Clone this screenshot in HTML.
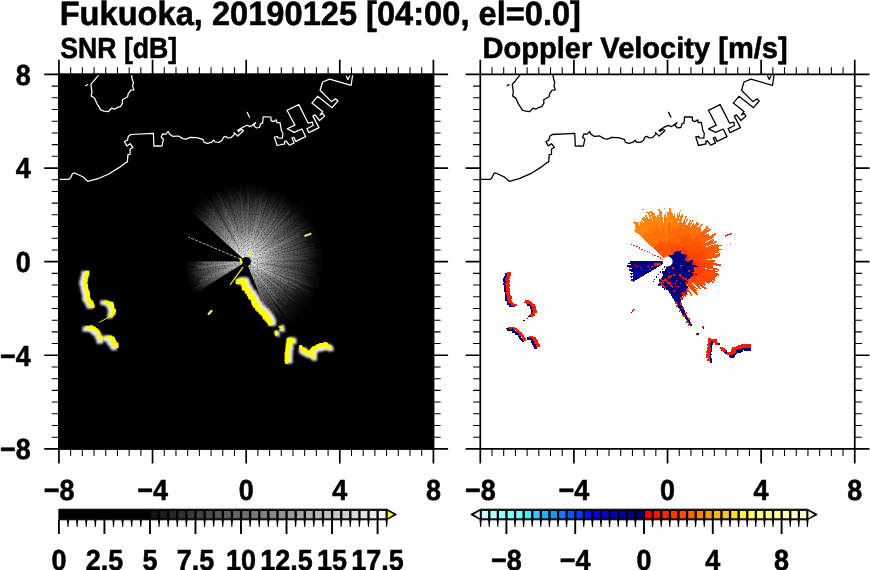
<!DOCTYPE html>
<html><head><meta charset="utf-8"><title>Fukuoka radar</title>
<style>html,body{margin:0;padding:0;background:#fff;}body{width:870px;height:570px;overflow:hidden;font-family:"Liberation Sans",sans-serif;}svg{display:block;filter:opacity(1);}text{text-rendering:geometricPrecision;}</style></head>
<body>
<svg width="870" height="570" viewBox="0 0 870 570">
<rect width="870" height="570" fill="#fff"/>
<defs>
<clipPath id="c1"><rect x="59.0" y="74.4" width="374.4" height="374.5"/></clipPath>
<clipPath id="c2"><rect x="480.3" y="74.4" width="374.4" height="374.5"/></clipPath>
<radialGradient id="g1" gradientUnits="userSpaceOnUse" cx="246.3" cy="261.5" r="78"><stop offset="0" stop-color="#fff" stop-opacity="1"/><stop offset="0.12" stop-color="#fff" stop-opacity="1"/><stop offset="0.26" stop-color="#fff" stop-opacity=".74"/><stop offset="0.38" stop-color="#fff" stop-opacity=".52"/><stop offset="0.51" stop-color="#fff" stop-opacity=".37"/><stop offset="0.64" stop-color="#fff" stop-opacity=".25"/><stop offset="0.77" stop-color="#fff" stop-opacity=".14"/><stop offset="0.9" stop-color="#fff" stop-opacity=".05"/><stop offset="1" stop-color="#fff" stop-opacity="0"/></radialGradient>
<radialGradient id="g1b" gradientUnits="userSpaceOnUse" cx="246.3" cy="261.5" r="62"><stop offset="0" stop-color="#fff" stop-opacity="1"/><stop offset="0.15" stop-color="#fff" stop-opacity=".95"/><stop offset="0.4" stop-color="#fff" stop-opacity=".6"/><stop offset="0.7" stop-color="#fff" stop-opacity=".3"/><stop offset="0.9" stop-color="#fff" stop-opacity=".1"/><stop offset="1" stop-color="#fff" stop-opacity="0"/></radialGradient>
<radialGradient id="g2" gradientUnits="userSpaceOnUse" cx="667.6" cy="261.5" r="60"><stop offset="0" stop-color="#ff3000"/><stop offset="0.45" stop-color="#ff5a00"/><stop offset="1" stop-color="#ff9a10"/></radialGradient>
<radialGradient id="g3" gradientUnits="userSpaceOnUse" cx="667.6" cy="261.5" r="60"><stop offset="0" stop-color="#ff1800"/><stop offset="0.5" stop-color="#ff3000"/><stop offset="1" stop-color="#ff6000"/></radialGradient>
<filter id="bl" x="-50%" y="-50%" width="200%" height="200%"><feGaussianBlur stdDeviation="0.9"/></filter>
<filter id="nz" x="0" y="0" width="100%" height="100%"><feTurbulence type="fractalNoise" baseFrequency="0.7" numOctaves="1" seed="5" result="n"/><feColorMatrix in="n" type="matrix" values="0 0 0 0 0  0 0 0 0 0  0 0 0 0 0  0 0 0 1.5 0.22" result="m"/><feComposite in="SourceGraphic" in2="m" operator="in"/></filter>
</defs>
<text x="59.7" y="24.7" font-size="33.8" textLength="521.3" lengthAdjust="spacingAndGlyphs" font-family="Liberation Sans, sans-serif" font-weight="bold" stroke="#000" stroke-width="0.55" stroke-linejoin="round">Fukuoka, 20190125 [04:00, el=0.0]</text>
<text x="60.2" y="58.0" font-size="29" textLength="117" lengthAdjust="spacingAndGlyphs" font-family="Liberation Sans, sans-serif" font-weight="bold" stroke="#000" stroke-width="0.55" stroke-linejoin="round">SNR [dB]</text>
<text x="482.6" y="58.3" font-size="29.5" textLength="305" lengthAdjust="spacingAndGlyphs" font-family="Liberation Sans, sans-serif" font-weight="bold" stroke="#000" stroke-width="0.55" stroke-linejoin="round">Doppler Velocity [m/s]</text>
<rect x="58.15" y="73.60" width="376.05" height="376.10" fill="#000"/>
<g clip-path="url(#c1)">
<g filter="url(#nz)">
<polygon points="246.3,261.5 187.6,208.6 191.4,204.7 195.5,201.0 199.9,197.6 204.4,194.5 209.2,191.7 214.2,189.3 219.3,187.3 224.5,185.6 229.9,184.2 235.3,183.3 240.8,182.7 246.3,182.5 251.8,182.7 257.3,183.3 262.7,184.2 268.1,185.6 273.3,187.3 278.4,189.3 283.4,191.7 288.2,194.5 292.7,197.6 297.1,201.0 301.2,204.7 305.0,208.6 308.6,212.9 311.8,217.3 314.7,222.0 317.3,226.9 319.5,231.9 321.4,237.1 323.0,242.4 324.1,247.8 324.9,253.2 325.3,258.7 325.3,264.3 324.9,269.8 324.1,275.2 323.0,280.6 321.4,285.9 319.5,291.1 317.3,296.1 314.7,301.0" fill="url(#g1)" fill-opacity="0.80"/>
<polygon points="246.3,261.5 314.7,301.0 311.6,305.9 308.2,310.6 304.4,315.0 300.3,319.2 295.9,323.0 291.2,326.5 286.3,329.6 281.2,332.4 275.9,334.7" fill="url(#g1)" fill-opacity="0.62"/>
<polygon points="246.3,261.5 193.7,294.4 191.6,290.6 189.7,286.7 188.0,282.7 186.7,278.6 185.7,274.4 184.9,270.1 184.5,265.8 184.3,261.5" fill="url(#g1b)" fill-opacity="0.60"/>
<polygon points="246.3,261.5 187.8,208.8 188.8,207.7" fill="url(#g1)" fill-opacity="0.37" />
<polygon points="246.3,261.5 204.1,222.1 204.6,221.6" fill="url(#g1)" fill-opacity="0.48" />
<polygon points="246.3,261.5 195.6,213.2 196.6,212.3" fill="url(#g1)" fill-opacity="0.78" />
<polygon points="246.3,261.5 205.8,221.5 206.4,220.9" fill="url(#g1)" fill-opacity="0.40" />
<polygon points="246.3,261.5 202.9,217.5 203.5,217.0" fill="url(#g1)" fill-opacity="0.49" />
<polygon points="246.3,261.5 193.6,206.9 194.3,206.3" fill="url(#g1)" fill-opacity="0.15" />
<polygon points="246.3,261.5 197.4,209.8 198.2,209.1" fill="url(#g1)" fill-opacity="0.52" />
<polygon points="246.3,261.5 199.0,210.1 199.7,209.5" fill="url(#g1)" fill-opacity="0.37" />
<polygon points="246.3,261.5 208.1,219.1 208.8,218.5" fill="url(#g1)" fill-opacity="0.74" />
<polygon points="246.3,261.5 202.8,211.8 203.7,211.0" fill="url(#g1)" fill-opacity="0.48" />
<polygon points="246.3,261.5 205.4,213.1 206.8,211.9" fill="url(#g1)" fill-opacity="0.70" />
<polygon points="246.3,261.5 209.8,215.8 210.5,215.2" fill="url(#g1)" fill-opacity="0.51" />
<polygon points="246.3,261.5 206.5,210.2 207.3,209.6" fill="url(#g1)" fill-opacity="0.49" />
<polygon points="246.3,261.5 204.4,206.0 205.1,205.5" fill="url(#g1)" fill-opacity="0.55" />
<polygon points="246.3,261.5 203.4,203.3 204.7,202.3" fill="url(#g1)" fill-opacity="0.39" />
<polygon points="246.3,261.5 207.6,206.6 208.6,205.9" fill="url(#g1)" fill-opacity="0.79" />
<polygon points="246.3,261.5 210.8,209.2 211.8,208.6" fill="url(#g1)" fill-opacity="0.69" />
<polygon points="246.3,261.5 214.6,213.0 215.3,212.5" fill="url(#g1)" fill-opacity="0.29" />
<polygon points="246.3,261.5 205.0,196.5 206.5,195.6" fill="url(#g1)" fill-opacity="0.63" />
<polygon points="246.3,261.5 209.7,201.1 210.9,200.4" fill="url(#g1)" fill-opacity="0.11" />
<polygon points="246.3,261.5 213.1,204.4 214.8,203.5" fill="url(#g1)" fill-opacity="0.66" />
<polygon points="246.3,261.5 208.8,192.7 209.9,192.1" fill="url(#g1)" fill-opacity="0.39" />
<polygon points="246.3,261.5 211.6,195.7 212.4,195.3" fill="url(#g1)" fill-opacity="0.51" />
<polygon points="246.3,261.5 217.0,204.4 218.1,203.9" fill="url(#g1)" fill-opacity="0.33" />
<polygon points="246.3,261.5 215.4,198.8 216.9,198.1" fill="url(#g1)" fill-opacity="0.41" />
<polygon points="246.3,261.5 213.1,190.2 213.9,189.8" fill="url(#g1)" fill-opacity="0.43" />
<polygon points="246.3,261.5 222.6,209.2 223.2,208.9" fill="url(#g1)" fill-opacity="0.61" />
<polygon points="246.3,261.5 214.1,188.5 216.3,187.5" fill="url(#g1)" fill-opacity="0.71" />
<polygon points="246.3,261.5 218.6,193.7 219.9,193.2" fill="url(#g1)" fill-opacity="0.76" />
<polygon points="246.3,261.5 225.9,208.8 226.9,208.4" fill="url(#g1)" fill-opacity="0.42" />
<polygon points="246.3,261.5 221.9,195.2 222.9,194.8" fill="url(#g1)" fill-opacity="0.44" />
<polygon points="246.3,261.5 221.6,191.3 222.7,190.9" fill="url(#g1)" fill-opacity="0.15" />
<polygon points="246.3,261.5 225.4,199.4 226.4,199.1" fill="url(#g1)" fill-opacity="0.78" />
<polygon points="246.3,261.5 228.6,206.3 229.8,206.0" fill="url(#g1)" fill-opacity="0.41" />
<polygon points="246.3,261.5 228.4,201.4 230.2,200.9" fill="url(#g1)" fill-opacity="0.16" />
<polygon points="246.3,261.5 226.4,187.4 228.1,186.9" fill="url(#g1)" fill-opacity="0.27" />
<polygon points="246.3,261.5 227.3,184.1 229.1,183.7" fill="url(#g1)" fill-opacity="0.60" />
<polygon points="246.3,261.5 229.1,184.4 230.8,184.0" fill="url(#g1)" fill-opacity="0.17" />
<polygon points="246.3,261.5 234.5,203.0 235.4,202.9" fill="url(#g1)" fill-opacity="0.58" />
<polygon points="246.3,261.5 233.9,195.0 234.7,194.9" fill="url(#g1)" fill-opacity="0.52" />
<polygon points="246.3,261.5 235.4,199.7 236.6,199.5" fill="url(#g1)" fill-opacity="0.17" />
<polygon points="246.3,261.5 236.2,197.4 238.1,197.2" fill="url(#g1)" fill-opacity="0.50" />
<polygon points="246.3,261.5 237.0,189.5 238.1,189.4" fill="url(#g1)" fill-opacity="0.46" />
<polygon points="246.3,261.5 238.1,190.3 240.2,190.0" fill="url(#g1)" fill-opacity="0.64" />
<polygon points="246.3,261.5 239.5,184.2 241.3,184.1" fill="url(#g1)" fill-opacity="0.67" />
<polygon points="246.3,261.5 242.0,196.2 243.9,196.1" fill="url(#g1)" fill-opacity="0.37" />
<polygon points="246.3,261.5 243.7,194.0 244.5,194.0" fill="url(#g1)" fill-opacity="0.37" />
<polygon points="246.3,261.5 244.7,203.9 245.6,203.9" fill="url(#g1)" fill-opacity="0.22" />
<polygon points="246.3,261.5 245.5,202.9 246.4,202.9" fill="url(#g1)" fill-opacity="0.53" />
<polygon points="246.3,261.5 246.3,205.5 247.0,205.5" fill="url(#g1)" fill-opacity="0.17" />
<polygon points="246.3,261.5 247.1,182.7 248.1,182.7" fill="url(#g1)" fill-opacity="0.54" />
<polygon points="246.3,261.5 247.9,184.5 248.9,184.6" fill="url(#g1)" fill-opacity="0.54" />
<polygon points="246.3,261.5 248.5,190.3 249.7,190.4" fill="url(#g1)" fill-opacity="0.81" />
<polygon points="246.3,261.5 249.2,196.8 251.2,196.9" fill="url(#g1)" fill-opacity="0.15" />
<polygon points="246.3,261.5 252.1,181.9 254.0,182.0" fill="url(#g1)" fill-opacity="0.42" />
<polygon points="246.3,261.5 252.3,198.3 253.7,198.4" fill="url(#g1)" fill-opacity="0.17" />
<polygon points="246.3,261.5 254.8,188.2 256.2,188.4" fill="url(#g1)" fill-opacity="0.43" />
<polygon points="246.3,261.5 255.3,193.7 256.4,193.9" fill="url(#g1)" fill-opacity="0.21" />
<polygon points="246.3,261.5 255.7,197.5 257.6,197.8" fill="url(#g1)" fill-opacity="0.60" />
<polygon points="246.3,261.5 259.2,188.4 260.1,188.6" fill="url(#g1)" fill-opacity="0.29" />
<polygon points="246.3,261.5 259.7,190.0 260.5,190.2" fill="url(#g1)" fill-opacity="0.26" />
<polygon points="246.3,261.5 261.4,185.2 262.9,185.5" fill="url(#g1)" fill-opacity="0.33" />
<polygon points="246.3,261.5 260.8,194.3 261.9,194.5" fill="url(#g1)" fill-opacity="0.67" />
<polygon points="246.3,261.5 262.3,192.1 263.7,192.4" fill="url(#g1)" fill-opacity="0.54" />
<polygon points="246.3,261.5 264.5,188.4 265.7,188.7" fill="url(#g1)" fill-opacity="0.70" />
<polygon points="246.3,261.5 261.8,202.7 262.8,203.0" fill="url(#g1)" fill-opacity="0.44" />
<polygon points="246.3,261.5 267.7,184.7 268.7,185.0" fill="url(#g1)" fill-opacity="0.68" />
<polygon points="246.3,261.5 263.7,201.8 265.0,202.2" fill="url(#g1)" fill-opacity="0.60" />
<polygon points="246.3,261.5 266.3,197.8 267.5,198.2" fill="url(#g1)" fill-opacity="0.80" />
<polygon points="246.3,261.5 271.2,186.6 272.6,187.1" fill="url(#g1)" fill-opacity="0.34" />
<polygon points="246.3,261.5 265.7,206.4 266.6,206.7" fill="url(#g1)" fill-opacity="0.43" />
<polygon points="246.3,261.5 267.3,204.3 268.4,204.8" fill="url(#g1)" fill-opacity="0.55" />
<polygon points="246.3,261.5 273.8,190.5 275.9,191.3" fill="url(#g1)" fill-opacity="0.43" />
<polygon points="246.3,261.5 275.4,192.2 276.8,192.8" fill="url(#g1)" fill-opacity="0.12" />
<polygon points="246.3,261.5 277.7,190.3 278.6,190.7" fill="url(#g1)" fill-opacity="0.68" />
<polygon points="246.3,261.5 274.2,200.1 275.1,200.5" fill="url(#g1)" fill-opacity="0.19" />
<polygon points="246.3,261.5 271.0,208.9 272.0,209.4" fill="url(#g1)" fill-opacity="0.81" />
<polygon points="246.3,261.5 275.9,201.3 277.3,202.0" fill="url(#g1)" fill-opacity="0.64" />
<polygon points="246.3,261.5 280.1,196.3 280.9,196.8" fill="url(#g1)" fill-opacity="0.19" />
<polygon points="246.3,261.5 272.9,211.5 273.7,211.9" fill="url(#g1)" fill-opacity="0.52" />
<polygon points="246.3,261.5 282.6,195.5 284.1,196.3" fill="url(#g1)" fill-opacity="0.17" />
<polygon points="246.3,261.5 286.1,192.6 288.1,193.8" fill="url(#g1)" fill-opacity="0.58" />
<polygon points="246.3,261.5 277.6,210.6 278.6,211.2" fill="url(#g1)" fill-opacity="0.49" />
<polygon points="246.3,261.5 276.7,214.0 277.2,214.4" fill="url(#g1)" fill-opacity="0.83" />
<polygon points="246.3,261.5 283.9,204.1 284.6,204.5" fill="url(#g1)" fill-opacity="0.80" />
<polygon points="246.3,261.5 290.6,195.3 292.1,196.3" fill="url(#g1)" fill-opacity="0.21" />
<polygon points="246.3,261.5 278.8,215.1 279.5,215.6" fill="url(#g1)" fill-opacity="0.22" />
<polygon points="246.3,261.5 282.4,211.4 283.9,212.5" fill="url(#g1)" fill-opacity="0.52" />
<polygon points="246.3,261.5 288.2,206.6 289.3,207.4" fill="url(#g1)" fill-opacity="0.72" />
<polygon points="246.3,261.5 294.7,200.5 295.4,201.1" fill="url(#g1)" fill-opacity="0.33" />
<polygon points="246.3,261.5 291.5,205.6 292.8,206.7" fill="url(#g1)" fill-opacity="0.70" />
<polygon points="246.3,261.5 289.0,211.0 290.4,212.3" fill="url(#g1)" fill-opacity="0.78" />
<polygon points="246.3,261.5 285.7,217.4 287.0,218.6" fill="url(#g1)" fill-opacity="0.17" />
<polygon points="246.3,261.5 285.1,220.5 286.3,221.7" fill="url(#g1)" fill-opacity="0.40" />
<polygon points="246.3,261.5 296.2,211.6 297.0,212.4" fill="url(#g1)" fill-opacity="0.67" />
<polygon points="246.3,261.5 289.4,219.6 290.1,220.3" fill="url(#g1)" fill-opacity="0.43" />
<polygon points="246.3,261.5 296.7,213.8 297.3,214.5" fill="url(#g1)" fill-opacity="0.31" />
<polygon points="246.3,261.5 296.7,214.8 298.1,216.3" fill="url(#g1)" fill-opacity="0.44" />
<polygon points="246.3,261.5 304.4,210.7 305.0,211.4" fill="url(#g1)" fill-opacity="0.10" />
<polygon points="246.3,261.5 293.9,220.7 294.5,221.5" fill="url(#g1)" fill-opacity="0.67" />
<polygon points="246.3,261.5 297.7,218.7 298.9,220.2" fill="url(#g1)" fill-opacity="0.07" />
<polygon points="246.3,261.5 298.7,220.3 299.2,220.9" fill="url(#g1)" fill-opacity="0.54" />
<polygon points="246.3,261.5 302.2,218.5 303.4,220.1" fill="url(#g1)" fill-opacity="0.21" />
<polygon points="246.3,261.5 300.4,222.2 301.1,223.2" fill="url(#g1)" fill-opacity="0.48" />
<polygon points="246.3,261.5 302.2,222.4 303.0,223.7" fill="url(#g1)" fill-opacity="0.25" />
<polygon points="246.3,261.5 310.3,218.6 311.6,220.6" fill="url(#g1)" fill-opacity="0.80" />
<polygon points="246.3,261.5 312.4,219.9 313.2,221.1" fill="url(#g1)" fill-opacity="0.76" />
<polygon points="246.3,261.5 311.4,222.0 312.1,223.1" fill="url(#g1)" fill-opacity="0.16" />
<polygon points="246.3,261.5 302.7,228.4 303.1,229.1" fill="url(#g1)" fill-opacity="0.30" />
<polygon points="246.3,261.5 303.8,228.6 304.3,229.5" fill="url(#g1)" fill-opacity="0.22" />
<polygon points="246.3,261.5 311.7,225.2 312.4,226.5" fill="url(#g1)" fill-opacity="0.77" />
<polygon points="246.3,261.5 315.7,224.6 316.2,225.7" fill="url(#g1)" fill-opacity="0.56" />
<polygon points="246.3,261.5 299.2,234.3 299.7,235.4" fill="url(#g1)" fill-opacity="0.76" />
<polygon points="246.3,261.5 301.3,234.4 301.9,235.7" fill="url(#g1)" fill-opacity="0.81" />
<polygon points="246.3,261.5 316.3,228.9 317.0,230.5" fill="url(#g1)" fill-opacity="0.18" />
<polygon points="246.3,261.5 301.1,237.3 301.5,238.2" fill="url(#g1)" fill-opacity="0.40" />
<polygon points="246.3,261.5 306.8,235.8 307.5,237.6" fill="url(#g1)" fill-opacity="0.39" />
<polygon points="246.3,261.5 305.6,238.3 306.0,239.4" fill="url(#g1)" fill-opacity="0.63" />
<polygon points="246.3,261.5 306.4,239.2 306.7,239.9" fill="url(#g1)" fill-opacity="0.42" />
<polygon points="246.3,261.5 307.7,239.4 307.9,240.2" fill="url(#g1)" fill-opacity="0.46" />
<polygon points="246.3,261.5 310.8,239.0 311.2,240.3" fill="url(#g1)" fill-opacity="0.10" />
<polygon points="246.3,261.5 321.7,236.7 322.0,237.9" fill="url(#g1)" fill-opacity="0.13" />
<polygon points="246.3,261.5 306.0,242.8 306.3,244.0" fill="url(#g1)" fill-opacity="0.77" />
<polygon points="246.3,261.5 306.2,243.9 306.5,244.8" fill="url(#g1)" fill-opacity="0.15" />
<polygon points="246.3,261.5 319.9,241.0 320.3,242.6" fill="url(#g1)" fill-opacity="0.59" />
<polygon points="246.3,261.5 310.0,245.2 310.3,246.4" fill="url(#g1)" fill-opacity="0.48" />
<polygon points="246.3,261.5 314.1,245.3 314.5,247.4" fill="url(#g1)" fill-opacity="0.61" />
<polygon points="246.3,261.5 307.7,248.7 307.8,249.4" fill="url(#g1)" fill-opacity="0.69" />
<polygon points="246.3,261.5 311.2,248.6 311.4,249.7" fill="url(#g1)" fill-opacity="0.11" />
<polygon points="246.3,261.5 316.4,248.6 316.5,249.5" fill="url(#g1)" fill-opacity="0.69" />
<polygon points="246.3,261.5 315.9,249.5 316.0,250.3" fill="url(#g1)" fill-opacity="0.23" />
<polygon points="246.3,261.5 322.0,249.2 322.2,250.7" fill="url(#g1)" fill-opacity="0.41" />
<polygon points="246.3,261.5 325.3,250.1 325.6,251.6" fill="url(#g1)" fill-opacity="0.38" />
<polygon points="246.3,261.5 316.7,252.6 316.8,254.0" fill="url(#g1)" fill-opacity="0.08" />
<polygon points="246.3,261.5 324.4,253.0 324.5,254.2" fill="url(#g1)" fill-opacity="0.83" />
<polygon points="246.3,261.5 303.3,256.1 303.3,257.2" fill="url(#g1)" fill-opacity="0.21" />
<polygon points="246.3,261.5 317.2,256.0 317.3,257.4" fill="url(#g1)" fill-opacity="0.47" />
<polygon points="246.3,261.5 309.1,257.8 309.2,258.8" fill="url(#g1)" fill-opacity="0.45" />
<polygon points="246.3,261.5 308.7,258.7 308.8,259.6" fill="url(#g1)" fill-opacity="0.69" />
<polygon points="246.3,261.5 303.2,259.7 303.2,260.8" fill="url(#g1)" fill-opacity="0.06" />
<polygon points="246.3,261.5 315.5,260.5 315.5,262.6" fill="url(#g1)" fill-opacity="0.20" />
<polygon points="246.3,261.5 308.2,262.4 308.2,263.8" fill="url(#g1)" fill-opacity="0.41" />
<polygon points="246.3,261.5 318.0,264.0 317.9,265.6" fill="url(#g1)" fill-opacity="0.49" />
<polygon points="246.3,261.5 325.5,265.9 325.3,267.7" fill="url(#g1)" fill-opacity="0.30" />
<polygon points="246.3,261.5 325.6,267.6 325.5,268.9" fill="url(#g1)" fill-opacity="0.32" />
<polygon points="246.3,261.5 311.7,267.5 311.6,268.5" fill="url(#g1)" fill-opacity="0.33" />
<polygon points="246.3,261.5 322.0,269.5 321.9,270.4" fill="url(#g1)" fill-opacity="0.06" />
<polygon points="246.3,261.5 312.2,269.1 312.0,270.4" fill="url(#g1)" fill-opacity="0.09" />
<polygon points="246.3,261.5 322.5,271.7 322.3,273.4" fill="url(#g1)" fill-opacity="0.59" />
<polygon points="246.3,261.5 315.8,272.3 315.6,273.6" fill="url(#g1)" fill-opacity="0.60" />
<polygon points="246.3,261.5 312.3,272.9 312.2,273.7" fill="url(#g1)" fill-opacity="0.18" />
<polygon points="246.3,261.5 301.5,271.6 301.2,272.9" fill="url(#g1)" fill-opacity="0.34" />
<polygon points="246.3,261.5 324.0,277.5 323.7,278.9" fill="url(#g1)" fill-opacity="0.49" />
<polygon points="246.3,261.5 301.8,273.9 301.6,274.8" fill="url(#g1)" fill-opacity="0.76" />
<polygon points="246.3,261.5 309.1,276.5 308.9,277.4" fill="url(#g1)" fill-opacity="0.05" />
<polygon points="246.3,261.5 302.5,275.7 302.2,277.0" fill="url(#g1)" fill-opacity="0.27" />
<polygon points="246.3,261.5 306.0,278.0 305.8,278.9" fill="url(#g1)" fill-opacity="0.67" />
<polygon points="246.3,261.5 306.2,278.9 305.9,279.6" fill="url(#g1)" fill-opacity="0.12" />
<polygon points="246.3,261.5 313.4,281.8 312.9,283.3" fill="url(#g1)" fill-opacity="0.37" />
<polygon points="246.3,261.5 306.5,281.1 306.1,282.2" fill="url(#g1)" fill-opacity="0.24" />
<polygon points="246.3,261.5 321.0,287.2 320.2,289.4" fill="url(#g1)" fill-opacity="0.73" />
<polygon points="246.3,261.5 313.5,286.8 313.1,287.8" fill="url(#g1)" fill-opacity="0.62" />
<polygon points="246.3,261.5 307.1,285.3 306.4,287.1" fill="url(#g1)" fill-opacity="0.31" />
<polygon points="246.3,261.5 301.2,284.8 300.6,286.0" fill="url(#g1)" fill-opacity="0.63" />
<polygon points="246.3,261.5 298.3,284.9 298.0,285.7" fill="url(#g1)" fill-opacity="0.72" />
<polygon points="246.3,261.5 310.7,291.5 309.8,293.4" fill="url(#g1)" fill-opacity="0.64" />
<polygon points="246.3,261.5 288.4,282.6 287.7,283.8" fill="url(#g1)" fill-opacity="0.47" />
<polygon points="246.3,261.5 296.1,288.2 295.3,289.7" fill="url(#g1)" fill-opacity="0.70" />
<polygon points="246.3,261.5 300.3,292.4 299.9,293.1" fill="url(#g1)" fill-opacity="0.52" />
<polygon points="246.3,261.5 285.9,284.7 285.5,285.3" fill="url(#g1)" fill-opacity="0.08" />
<polygon points="246.3,261.5 302.0,295.2 301.3,296.3" fill="url(#g1)" fill-opacity="0.35" />
<polygon points="246.3,261.5 293.9,291.5 293.2,292.6" fill="url(#g1)" fill-opacity="0.55" />
<polygon points="246.3,261.5 295.5,294.0 294.6,295.4" fill="url(#g1)" fill-opacity="0.44" />
<polygon points="246.3,261.5 290.6,292.5 290.2,293.0" fill="url(#g1)" fill-opacity="0.11" />
<polygon points="246.3,261.5 298.1,298.6 297.0,300.1" fill="url(#g1)" fill-opacity="0.12" />
<polygon points="246.3,261.5 282.5,289.0 281.7,290.0" fill="url(#g1)" fill-opacity="0.64" />
<polygon points="246.3,261.5 294.5,300.2 293.7,301.1" fill="url(#g1)" fill-opacity="0.73" />
<polygon points="246.3,261.5 292.4,299.9 291.8,300.7" fill="url(#g1)" fill-opacity="0.21" />
<polygon points="246.3,261.5 288.0,297.2 287.1,298.1" fill="url(#g1)" fill-opacity="0.36" />
<polygon points="246.3,261.5 294.0,304.2 293.1,305.3" fill="url(#g1)" fill-opacity="0.28" />
<polygon points="246.3,261.5 288.4,300.8 287.9,301.3" fill="url(#g1)" fill-opacity="0.56" />
<polygon points="246.3,261.5 287.7,300.9 287.2,301.4" fill="url(#g1)" fill-opacity="0.32" />
<polygon points="246.3,261.5 287.6,301.7 286.9,302.5" fill="url(#g1)" fill-opacity="0.16" />
<polygon points="246.3,261.5 278.2,293.7 277.5,294.4" fill="url(#g1)" fill-opacity="0.27" />
<polygon points="246.3,261.5 287.1,304.4 286.6,304.9" fill="url(#g1)" fill-opacity="0.59" />
<polygon points="246.3,261.5 286.9,305.1 286.1,305.9" fill="url(#g1)" fill-opacity="0.28" />
<polygon points="246.3,261.5 282.6,301.8 281.7,302.6" fill="url(#g1)" fill-opacity="0.14" />
<polygon points="246.3,261.5 277.9,298.1 276.8,299.0" fill="url(#g1)" fill-opacity="0.83" />
<polygon points="246.3,261.5 274.4,295.9 273.6,296.5" fill="url(#g1)" fill-opacity="0.42" />
<polygon points="246.3,261.5 286.5,313.0 285.0,314.1" fill="url(#g1)" fill-opacity="0.41" />
<polygon points="246.3,261.5 277.5,303.8 276.6,304.4" fill="url(#g1)" fill-opacity="0.78" />
<polygon points="246.3,261.5 272.7,298.7 272.2,299.1" fill="url(#g1)" fill-opacity="0.12" />
<polygon points="246.3,261.5 274.6,302.5 273.3,303.3" fill="url(#g1)" fill-opacity="0.34" />
<polygon points="246.3,261.5 280.1,313.5 278.5,314.5" fill="url(#g1)" fill-opacity="0.46" />
<polygon points="246.3,261.5 277.3,312.3 276.7,312.6" fill="url(#g1)" fill-opacity="0.24" />
<polygon points="246.3,261.5 273.3,306.7 272.2,307.3" fill="url(#g1)" fill-opacity="0.18" />
<polygon points="246.3,261.5 275.4,312.8 274.3,313.4" fill="url(#g1)" fill-opacity="0.37" />
<polygon points="246.3,261.5 271.6,308.3 270.8,308.6" fill="url(#g1)" fill-opacity="0.35" />
<polygon points="246.3,261.5 275.2,316.9 274.6,317.2" fill="url(#g1)" fill-opacity="0.05" />
<polygon points="246.3,261.5 274.7,317.2 273.6,317.7" fill="url(#g1)" fill-opacity="0.15" />
<polygon points="246.3,261.5 272.5,315.1 271.6,315.6" fill="url(#g1)" fill-opacity="0.77" />
<polygon points="246.3,261.5 267.4,306.4 266.5,306.7" fill="url(#g1)" fill-opacity="0.10" />
<polygon points="246.3,261.5 273.3,321.7 272.0,322.3" fill="url(#g1)" fill-opacity="0.52" />
<polygon points="246.3,261.5 271.4,320.7 270.4,321.2" fill="url(#g1)" fill-opacity="0.65" />
<polygon points="246.3,261.5 265.1,308.0 265.1,308.0" fill="url(#g1)" fill-opacity="0.09" />
<polygon points="246.3,261.5 199.9,290.5 199.1,289.2" fill="url(#g1b)" fill-opacity="0.20" />
<polygon points="246.3,261.5 202.6,287.2 201.9,286.0" fill="url(#g1b)" fill-opacity="0.32" />
<polygon points="246.3,261.5 195.8,289.5 195.1,288.1" fill="url(#g1b)" fill-opacity="0.40" />
<polygon points="246.3,261.5 194.6,288.4 194.2,287.6" fill="url(#g1b)" fill-opacity="0.54" />
<polygon points="246.3,261.5 195.9,286.8 195.4,285.9" fill="url(#g1b)" fill-opacity="0.13" />
<polygon points="246.3,261.5 200.3,283.6 199.5,281.9" fill="url(#g1b)" fill-opacity="0.63" />
<polygon points="246.3,261.5 198.9,282.3 198.4,281.0" fill="url(#g1b)" fill-opacity="0.74" />
<polygon points="246.3,261.5 204.3,278.7 203.9,277.8" fill="url(#g1b)" fill-opacity="0.39" />
<polygon points="246.3,261.5 201.6,278.8 201.1,277.6" fill="url(#g1b)" fill-opacity="0.62" />
<polygon points="246.3,261.5 199.1,278.4 198.7,277.1" fill="url(#g1b)" fill-opacity="0.27" />
<polygon points="246.3,261.5 195.8,278.1 195.2,276.2" fill="url(#g1b)" fill-opacity="0.38" />
<polygon points="246.3,261.5 193.6,276.8 193.3,275.8" fill="url(#g1b)" fill-opacity="0.15" />
<polygon points="246.3,261.5 195.1,275.4 194.7,273.5" fill="url(#g1b)" fill-opacity="0.42" />
<polygon points="246.3,261.5 186.0,275.6 185.6,274.0" fill="url(#g1b)" fill-opacity="0.41" />
<polygon points="246.3,261.5 194.4,272.2 194.2,271.2" fill="url(#g1b)" fill-opacity="0.27" />
<polygon points="246.3,261.5 198.3,270.6 198.1,269.6" fill="url(#g1b)" fill-opacity="0.16" />
<polygon points="246.3,261.5 197.6,269.8 197.5,268.9" fill="url(#g1b)" fill-opacity="0.67" />
<polygon points="246.3,261.5 187.2,270.5 187.1,269.4" fill="url(#g1b)" fill-opacity="0.62" />
<polygon points="246.3,261.5 197.1,268.2 196.9,266.3" fill="url(#g1b)" fill-opacity="0.62" />
<polygon points="246.3,261.5 197.0,266.4 196.9,265.5" fill="url(#g1b)" fill-opacity="0.34" />
<polygon points="246.3,261.5 194.5,265.8 194.5,264.9" fill="url(#g1b)" fill-opacity="0.50" />
<polygon points="246.3,261.5 201.9,264.5 201.8,263.3" fill="url(#g1b)" fill-opacity="0.45" />
<polygon points="246.3,261.5 202.5,263.3 202.5,262.5" fill="url(#g1b)" fill-opacity="0.73" />
<polygon points="246.3,261.5 196.3,262.7 196.3,261.1" fill="url(#g1b)" fill-opacity="0.41" />
<polygon points="246.3,261.5 201.3,183.6 203.2,182.5" fill="#000" fill-opacity="0.46" />
<polygon points="246.3,261.5 235.3,172.2 237.4,171.9" fill="#000" fill-opacity="0.26" />
<polygon points="246.3,261.5 275.6,176.4 276.5,176.7" fill="#000" fill-opacity="0.43" />
<polygon points="246.3,261.5 301.7,190.6 303.3,191.9" fill="#000" fill-opacity="0.37" />
<polygon points="246.3,261.5 321.8,212.5 322.7,213.9" fill="#000" fill-opacity="0.25" />
<polygon points="246.3,261.5 333.6,239.7 334.0,241.1" fill="#000" fill-opacity="0.48" />
<polygon points="246.3,261.5 335.4,274.0 335.1,276.0" fill="#000" fill-opacity="0.46" />
<polygon points="246.3,261.5 329.7,295.2 328.9,297.2" fill="#000" fill-opacity="0.31" />
<polygon points="246.3,261.5 314.2,320.5 313.5,321.4" fill="#000" fill-opacity="0.29" />
<polygon points="246.3,261.5 297.9,335.2 296.6,336.1" fill="#000" fill-opacity="0.42" />
</g>
<polyline fill="none" stroke="#fff" stroke-width="0.90" stroke-linejoin="round" stroke-linecap="butt" points="240.3,259.0 188.3,237.0" stroke-dasharray="3 1.2" stroke-opacity="0.75"/>
<circle cx="246.3" cy="261.5" r="4.6" fill="#000"/>
</g>
<g clip-path="url(#c1)">
<path d="M236.8 278.3h7.9v6.1h-7.9zM237.7 278.1h6.9v5.8h-6.9zM239.7 277.0h6.5v6.4h-6.5zM240.8 277.7h6.3v5.2h-6.3zM241.8 277.4h6.2v4.9h-6.2zM241.9 277.7h6.8v5.2h-6.8zM242.7 279.2h6.6v5.6h-6.6zM241.7 279.9h7.8v5.6h-7.8zM242.1 280.5h7.9v6.0h-7.9zM243.0 281.8h7.0v6.0h-7.0zM242.9 282.4h7.3v6.4h-7.3zM244.0 284.1h6.7v5.5h-6.7zM244.0 284.6h7.6v6.1h-7.6zM244.8 285.9h7.9v5.3h-7.9zM245.6 287.0h6.4v6.1h-6.4zM245.9 287.8h7.0v5.1h-7.0zM246.3 287.9h7.3v6.5h-7.3zM247.3 288.4h6.4v6.5h-6.4zM248.9 290.6h6.1v5.5h-6.1zM248.8 290.3h7.5v6.6h-7.5zM249.8 290.9h6.4v6.4h-6.4zM249.6 292.5h7.3v5.4h-7.3zM250.6 293.7h6.3v4.8h-6.3zM251.0 294.4h7.9v5.0h-7.9zM251.9 294.9h6.7v6.2h-6.7zM252.2 296.6h6.1v5.6h-6.1zM253.0 296.7h6.4v5.4h-6.4zM253.1 297.2h6.8v6.2h-6.8zM254.1 299.0h6.1v4.9h-6.1zM253.3 299.2h7.5v6.4h-7.5zM253.5 300.8h7.9v5.9h-7.9zM254.3 302.1h6.6v5.3h-6.6zM255.1 301.9h7.8v5.9h-7.8zM256.6 303.8h6.5v5.6h-6.5zM256.6 304.3h6.8v5.2h-6.8zM257.2 305.3h7.9v5.1h-7.9zM257.9 305.2h7.6v6.2h-7.6zM259.3 306.0h6.6v5.4h-6.6zM259.6 306.4h6.4v6.1h-6.4zM260.8 308.4h6.1v5.8h-6.1zM260.7 308.0h7.8v6.5h-7.8zM262.8 309.6h6.2v5.7h-6.2zM263.5 310.8h6.5v5.5h-6.5zM263.6 310.7h7.5v6.3h-7.5zM263.9 312.3h7.7v5.3h-7.7zM264.3 313.1h7.5v5.1h-7.5zM265.8 313.4h6.3v6.4h-6.3zM266.0 314.1h6.8v6.5h-6.8zM266.6 315.1h7.6v5.9h-7.6zM267.4 316.7h6.9v6.2h-6.9zM267.7 317.3h6.1v5.3h-6.1zM268.1 318.5h7.9v5.8h-7.9zM268.2 320.2h7.7v5.6h-7.7z" fill="#e8e8e8" filter="url(#bl)"/>
<path d="M274.6 330.8h5.1v2.7h-5.1zM275.1 331.3h3.6v3.2h-3.6zM275.9 332.2h3.7v3.6h-3.7zM276.4 333.6h3.2v3.1h-3.2z" fill="#e8e8e8" filter="url(#bl)"/>
<path d="M280.4 325.1h3.8v2.9h-3.8zM280.6 326.4h3.3v2.7h-3.3zM280.1 327.7h4.5v2.7h-4.5zM280.8 328.9h4.0v3.0h-4.0z" fill="#e8e8e8" filter="url(#bl)"/>
<path d="M290.9 338.9h5.6v5.0h-5.6zM289.4 337.7h6.7v5.8h-6.7zM288.2 338.5h6.5v4.3h-6.5zM287.9 337.3h5.8v5.4h-5.8zM287.3 338.7h5.9v4.3h-5.9zM287.0 339.2h6.3v5.6h-6.3zM287.2 340.3h5.7v4.9h-5.7zM286.8 341.3h6.0v5.6h-6.0zM286.4 342.0h6.6v5.7h-6.6zM286.4 343.0h6.9v5.7h-6.9zM286.7 345.2h6.9v4.7h-6.9zM286.5 346.1h6.6v4.2h-6.6zM286.9 346.4h5.8v5.5h-5.8zM286.8 348.0h5.4v4.7h-5.4zM287.0 349.7h5.2v4.4h-5.2zM287.1 349.5h5.1v5.0h-5.1zM286.1 351.4h6.7v4.2h-6.7zM286.2 352.3h6.3v4.5h-6.3zM286.4 352.8h5.9v5.1h-5.9zM286.8 353.7h5.0v5.1h-5.0zM286.0 354.5h6.5v5.4h-6.5zM285.9 356.3h5.9v4.2h-5.9zM286.7 356.6h5.2v4.8h-5.2zM286.3 358.7h6.3v4.1h-6.3zM286.2 359.3h6.0v4.1h-6.0z" fill="#e8e8e8" filter="url(#bl)"/>
<path d="M298.8 347.8h6.9v4.2h-6.9zM299.2 348.0h6.5v5.4h-6.5zM300.9 347.8h6.0v5.7h-6.0zM300.5 348.8h6.6v5.6h-6.6zM302.2 350.3h6.5v4.2h-6.5zM302.5 351.7h6.6v4.2h-6.6zM304.1 351.3h5.4v4.4h-5.4zM305.0 352.4h5.1v4.3h-5.1zM305.4 351.9h6.4v5.6h-6.4zM307.4 352.1h5.2v4.9h-5.2zM307.6 353.0h6.7v5.0h-6.7zM309.5 352.4h5.2v5.7h-5.2zM309.6 352.3h6.6v4.4h-6.6zM310.0 350.6h5.7v5.3h-5.7zM310.5 350.4h6.5v4.0h-6.5zM310.9 349.0h6.3v5.7h-6.3zM311.1 348.5h5.6v4.0h-5.6zM311.8 347.9h6.2v4.7h-6.2zM313.4 347.0h5.3v4.4h-5.3zM314.0 347.0h5.0v4.6h-5.0zM315.2 346.4h5.4v5.0h-5.4zM315.3 347.0h6.2v4.8h-6.2zM316.6 346.7h5.5v4.2h-5.5zM317.3 345.5h6.7v5.4h-6.7zM319.3 345.5h5.0v5.1h-5.0zM319.9 345.6h6.3v4.8h-6.3zM320.4 344.6h5.5v5.6h-5.5zM321.1 345.0h5.8v4.4h-5.8zM323.3 343.7h5.0v5.0h-5.0zM323.6 343.7h5.4v5.1h-5.4zM323.7 344.4h6.6v4.3h-6.6zM325.9 344.7h5.1v5.6h-5.1zM326.8 345.1h5.0v5.5h-5.0zM326.5 345.7h6.5v4.8h-6.5zM328.0 347.3h5.5v4.0h-5.5z" fill="#e8e8e8" filter="url(#bl)"/>
<path d="M310.4 351.4h5.4v4.7h-5.4zM310.9 353.1h5.1v3.9h-5.1zM311.7 353.8h4.5v4.3h-4.5zM310.6 355.5h5.8v3.2h-5.8zM311.5 355.8h5.5v4.9h-5.5z" fill="#e8e8e8" filter="url(#bl)"/>
<path d="M81.4 270.9h6.6v4.4h-6.6zM81.8 271.7h6.1v5.0h-6.1zM81.8 272.5h5.7v5.3h-5.7zM81.5 273.1h5.7v5.1h-5.7zM81.0 274.9h5.2v4.9h-5.2zM80.9 276.5h5.1v3.8h-5.1zM80.4 276.6h5.5v4.1h-5.5zM80.5 277.9h6.2v4.9h-6.2zM80.6 279.1h4.9v4.9h-4.9zM79.4 280.0h6.4v5.4h-6.4zM79.5 280.4h6.6v5.5h-6.6zM81.1 282.9h5.0v3.9h-5.0zM80.5 282.8h6.1v5.3h-6.1zM81.3 284.5h5.0v4.0h-5.0zM80.5 285.3h5.4v4.6h-5.4zM81.1 286.2h5.4v5.1h-5.4zM81.0 287.8h6.7v4.7h-6.7zM81.7 289.2h4.9v4.5h-4.9zM81.7 289.4h5.5v5.1h-5.5zM81.7 291.0h6.5v4.0h-6.5zM82.7 292.7h4.8v4.2h-4.8zM82.7 293.4h4.8v4.7h-4.8zM82.5 294.5h5.2v4.7h-5.2zM82.6 294.5h5.3v5.5h-5.3zM82.2 296.4h6.2v4.7h-6.2zM83.6 297.4h5.0v5.2h-5.0zM83.4 298.2h6.1v4.4h-6.1zM84.2 298.9h6.6v4.0h-6.6zM85.4 300.1h5.2v4.3h-5.2zM85.2 300.4h5.6v5.4h-5.6zM86.1 301.5h5.9v5.2h-5.9zM86.3 302.9h5.5v4.4h-5.5zM86.6 303.0h6.1v5.1h-6.1zM87.0 304.0h6.3v4.8h-6.3z" fill="#e8e8e8" filter="url(#bl)"/>
<path d="M100.1 300.5h6.2v3.9h-6.2zM101.4 300.2h5.8v5.0h-5.8zM103.3 301.1h4.9v4.1h-4.9zM104.8 302.1h5.1v3.8h-5.1zM105.3 301.5h4.6v5.2h-4.6zM106.2 302.1h6.4v4.9h-6.4zM106.7 302.9h4.8v4.6h-4.8zM107.1 305.1h5.2v3.5h-5.2zM107.4 305.3h5.8v4.4h-5.8zM108.1 306.4h4.7v4.6h-4.7zM107.9 307.6h6.2v4.3h-6.2zM108.9 308.9h5.2v3.9h-5.2zM109.0 309.2h5.9v4.7h-5.9zM109.0 310.4h5.7v4.3h-5.7zM109.3 311.4h4.6v4.2h-4.6zM107.8 312.3h5.7v3.9h-5.7zM107.3 313.6h5.6v4.2h-5.6zM107.2 313.7h4.8v4.7h-4.8z" fill="#e8e8e8" filter="url(#bl)"/>
<path d="M82.5 326.5h5.4v5.2h-5.4zM84.9 326.7h4.7v4.9h-4.7zM85.7 327.1h4.6v4.5h-4.6zM86.7 326.9h5.4v4.6h-5.4zM87.3 326.9h5.2v5.2h-5.2zM88.3 327.4h5.2v4.9h-5.2zM89.3 328.1h5.1v3.6h-5.1zM90.6 328.8h4.4v4.2h-4.4zM90.9 329.6h5.1v4.0h-5.1zM91.2 330.1h6.3v4.4h-6.3zM92.5 331.1h5.2v3.9h-5.2zM93.2 331.2h6.0v4.6h-6.0zM94.5 331.6h4.9v5.2h-4.9zM94.5 332.4h6.0v4.9h-6.0zM95.6 334.0h5.5v3.7h-5.5zM95.2 334.8h6.1v4.0h-6.1zM95.7 336.3h5.3v3.8h-5.3zM96.6 337.0h5.0v3.9h-5.0zM97.3 337.5h5.3v4.6h-5.3zM96.6 338.7h6.3v5.0h-6.3z" fill="#e8e8e8" filter="url(#bl)"/>
<path d="M102.3 335.6h7.4v5.9h-7.4zM103.7 336.9h6.9v4.5h-6.9zM105.0 336.3h6.9v4.9h-6.9zM106.8 336.3h6.1v5.8h-6.1zM106.5 337.9h7.4v5.9h-7.4zM107.8 338.9h6.8v5.8h-6.8zM107.7 339.6h7.2v5.9h-7.2zM108.7 340.8h6.7v5.8h-6.7zM109.0 341.5h6.7v4.9h-6.7zM109.8 342.6h6.6v4.5h-6.6zM110.4 343.9h6.6v5.3h-6.6zM111.4 344.2h5.6v6.0h-5.6z" fill="#e8e8e8" filter="url(#bl)"/>
<path d="M235.7 279.3h5.3v4.7h-5.3zM236.8 280.0h5.9v3.3h-5.9zM238.9 279.6h4.1v4.3h-4.1zM239.4 278.3h4.7v4.9h-4.7zM240.2 279.1h5.8v3.2h-5.8zM240.6 279.2h4.7v4.7h-4.7zM240.5 280.3h5.1v4.5h-5.1zM241.8 281.3h4.8v4.2h-4.8zM241.3 282.5h5.7v3.9h-5.7zM242.2 283.7h5.0v4.9h-5.0zM242.2 285.1h4.7v3.7h-4.7zM241.8 285.9h5.3v4.6h-5.3zM242.2 286.4h5.8v4.1h-5.8zM244.9 288.0h4.0v3.5h-4.0zM244.9 288.2h5.3v4.6h-5.3zM245.2 289.2h5.2v4.3h-5.2zM245.7 290.2h5.4v3.5h-5.4zM245.6 290.5h5.5v3.3h-5.5zM246.9 291.1h5.5v4.8h-5.5zM247.3 291.9h5.6v4.6h-5.6zM248.1 293.3h4.6v3.9h-4.6zM248.0 293.8h5.3v4.8h-5.3zM250.3 295.4h4.1v3.4h-4.1zM248.8 295.8h5.8v4.0h-5.8zM250.9 296.4h5.2v4.8h-5.2zM251.1 297.7h4.8v3.3h-4.8zM250.9 299.3h4.3v3.2h-4.3zM251.5 299.6h4.2v4.9h-4.2zM252.8 300.5h4.3v3.2h-4.3zM251.8 302.0h5.5v3.5h-5.5zM253.2 301.3h5.4v4.7h-5.4zM253.4 303.6h5.3v4.4h-5.3zM254.6 303.0h4.5v4.9h-4.5zM255.7 304.1h4.0v4.3h-4.0zM255.2 305.9h4.6v4.5h-4.6zM256.1 306.9h5.0v3.3h-5.0zM256.6 307.4h4.9v4.4h-4.9zM258.1 307.7h4.7v4.3h-4.7zM259.2 308.8h4.8v4.6h-4.8zM258.7 310.4h5.1v3.7h-5.1zM259.8 310.2h5.4v4.6h-5.4zM260.8 310.7h6.0v4.7h-6.0zM261.9 312.0h4.9v4.8h-4.9zM262.9 312.3h5.2v4.8h-5.2zM263.5 314.1h4.0v3.6h-4.0zM262.7 314.8h5.6v4.8h-5.6zM264.0 314.9h5.6v4.7h-5.6zM264.7 316.7h5.7v4.6h-5.7zM265.6 318.0h4.7v3.3h-4.7zM266.8 317.5h4.4v4.5h-4.4zM266.3 318.4h5.2v4.4h-5.2zM267.8 319.9h4.5v4.5h-4.5zM268.5 320.8h4.2v4.6h-4.2z" fill="#ffff00" />
<path d="M275.0 330.8h2.4v2.5h-2.4zM274.4 331.7h2.2v2.0h-2.2zM275.2 333.3h1.6v2.2h-1.6zM274.9 333.9h2.0v1.9h-2.0z" fill="#ffff00" />
<path d="M278.5 325.9h3.2v1.6h-3.2zM279.7 326.7h2.8v1.5h-2.8zM279.5 328.8h2.2v1.5h-2.2zM280.2 328.8h2.9v1.8h-2.9z" fill="#ffff00" />
<path d="M290.3 339.8h4.6v3.1h-4.6zM288.3 337.7h4.6v4.1h-4.6zM287.7 337.8h3.4v2.7h-3.4zM286.9 337.9h4.1v3.9h-4.1zM286.6 338.9h4.8v2.5h-4.8zM286.7 339.4h3.2v4.1h-3.2zM286.6 340.3h4.3v4.1h-4.3zM287.0 343.0h3.9v2.6h-3.9zM286.1 343.3h3.4v2.4h-3.4zM286.0 343.2h4.8v4.0h-4.8zM285.7 345.8h4.6v3.6h-4.6zM286.4 347.3h3.1v2.6h-3.1zM285.5 347.9h4.4v2.9h-4.4zM285.6 348.0h3.2v2.9h-3.2zM285.2 349.2h4.0v2.7h-4.0zM285.6 350.4h4.4v2.4h-4.4zM285.6 351.6h3.1v4.0h-3.1zM284.6 351.9h4.7v4.0h-4.7zM286.3 353.2h3.2v4.0h-3.2zM285.9 354.5h3.9v3.0h-3.9zM284.9 355.1h4.3v2.6h-4.3zM284.7 356.8h4.4v3.4h-4.4zM285.1 357.1h3.5v3.1h-3.5zM284.5 358.5h4.7v3.0h-4.7zM284.9 359.7h3.6v4.0h-3.6z" fill="#ffff00" />
<path d="M299.2 345.1h3.1v4.0h-3.1zM299.0 346.4h4.0v2.9h-4.0zM300.9 347.6h3.7v4.1h-3.7zM301.8 347.8h3.2v2.9h-3.2zM302.1 348.6h4.5v2.9h-4.5zM301.6 349.3h4.6v3.0h-4.6zM302.6 350.1h4.7v3.3h-4.7zM304.1 350.3h4.8v2.8h-4.8zM306.1 350.2h3.4v3.7h-3.4zM307.0 351.6h3.2v2.5h-3.2zM307.9 352.1h3.5v2.7h-3.5zM307.8 351.2h4.6v3.4h-4.6zM309.1 350.4h4.5v3.1h-4.5zM309.7 350.7h4.6v3.0h-4.6zM310.6 349.5h4.0v2.4h-4.0zM309.7 348.9h4.7v2.8h-4.7zM311.0 347.7h3.7v2.7h-3.7zM311.9 346.4h3.0v3.3h-3.0zM313.3 346.4h3.2v3.6h-3.2zM313.5 346.0h3.6v3.6h-3.6zM315.5 345.3h3.1v3.9h-3.1zM315.4 344.7h4.0v3.3h-4.0zM315.4 344.8h4.9v2.8h-4.9zM316.9 344.1h3.5v3.8h-3.5zM317.4 345.1h4.4v2.7h-4.4zM319.4 343.7h4.2v3.3h-4.2zM319.1 343.1h4.7v3.7h-4.7zM320.8 342.9h4.0v3.3h-4.0zM322.2 343.8h3.8v2.6h-3.8zM323.6 342.0h3.3v3.4h-3.3zM323.3 342.7h4.7v4.0h-4.7zM324.3 344.4h4.7v3.3h-4.7zM325.0 344.3h4.6v3.0h-4.6zM327.1 345.1h3.9v4.1h-3.9zM326.6 345.3h4.6v3.9h-4.6z" fill="#ffff00" />
<path d="M309.2 351.3h3.9v3.2h-3.9zM310.2 352.4h3.3v2.2h-3.3zM309.9 353.5h2.9v2.5h-2.9zM311.0 355.1h3.9v3.0h-3.9zM311.3 355.3h3.6v3.2h-3.6z" fill="#ffff00" />
<path d="M85.4 270.7h4.1v2.7h-4.1zM85.2 271.2h3.9v3.9h-3.9zM85.5 272.7h3.8v3.0h-3.8zM84.3 274.0h3.4v3.4h-3.4zM83.7 275.1h4.7v3.1h-4.7zM83.7 276.0h3.9v2.5h-3.9zM83.9 277.0h3.4v2.9h-3.4zM84.7 278.4h3.0v3.2h-3.0zM83.1 279.5h3.9v3.4h-3.9zM83.6 280.4h3.7v3.2h-3.7zM83.3 281.8h3.4v2.6h-3.4zM83.1 282.4h3.6v3.3h-3.6zM83.5 284.0h4.5v2.6h-4.5zM83.9 284.8h3.4v4.0h-3.4zM85.0 286.3h3.1v2.3h-3.1zM84.6 287.6h2.9v2.9h-2.9zM85.4 288.8h3.0v2.6h-3.0zM84.8 289.7h3.1v2.8h-3.1zM85.2 290.1h4.0v3.7h-4.0zM85.2 291.2h4.3v3.5h-4.3zM85.5 291.8h4.4v3.5h-4.4zM85.5 294.1h4.5v2.2h-4.5zM85.8 294.1h3.8v3.9h-3.8zM85.7 295.2h4.4v3.8h-4.4zM86.4 296.5h3.7v3.0h-3.7zM86.2 297.6h3.6v3.2h-3.6zM86.6 298.3h4.4v3.7h-4.4zM87.3 299.8h3.2v2.7h-3.2zM88.5 300.5h4.0v2.4h-4.0zM88.9 300.5h4.5v3.7h-4.5zM88.6 301.1h3.7v3.8h-3.7zM90.3 303.3h3.9v3.1h-3.9zM90.3 303.4h3.9v4.0h-3.9zM90.5 304.9h4.2v2.9h-4.2z" fill="#ffff00" />
<path d="M104.3 300.5h3.1v3.6h-3.1zM105.3 301.5h2.6v2.6h-2.6zM106.7 301.3h3.5v3.5h-3.5zM108.0 301.7h3.3v3.0h-3.3zM107.9 301.9h3.5v3.3h-3.5zM109.0 302.0h4.4v3.4h-4.4zM109.9 304.3h4.2v3.1h-4.2zM109.4 304.5h4.2v2.6h-4.2zM110.1 305.3h3.4v2.8h-3.4zM110.6 307.3h3.7v3.0h-3.7zM111.1 308.5h3.7v2.0h-3.7zM111.2 308.2h3.0v3.1h-3.0zM111.9 309.1h4.1v2.9h-4.1zM112.1 310.8h3.4v2.9h-3.4zM111.8 311.0h3.5v3.7h-3.5zM111.8 312.3h2.6v2.2h-2.6zM110.8 314.2h2.6v2.2h-2.6zM109.0 313.5h3.6v3.3h-3.6z" fill="#ffff00" />
<path d="M85.5 325.8h3.9v2.5h-3.9zM86.4 326.6h2.7v2.4h-2.7zM87.6 325.9h3.6v2.5h-3.6zM89.4 326.2h2.5v3.5h-2.5zM89.7 325.2h3.3v3.0h-3.3zM90.4 326.2h4.3v3.4h-4.3zM91.8 327.5h4.0v2.4h-4.0zM92.4 326.8h3.4v3.6h-3.4zM93.1 328.8h3.8v2.3h-3.8zM94.1 328.0h3.4v3.3h-3.4zM96.0 329.4h3.1v2.2h-3.1zM96.1 330.3h3.5v2.1h-3.5zM96.5 331.7h3.2v2.0h-3.2zM97.1 331.7h3.1v2.3h-3.1zM98.3 332.9h2.9v1.9h-2.9zM98.0 333.2h2.7v3.2h-2.7zM98.3 335.5h4.1v2.1h-4.1zM98.6 336.3h4.0v2.2h-4.0zM99.3 336.9h3.2v3.6h-3.2zM99.9 337.3h3.4v2.3h-3.4z" fill="#ffff00" />
<path d="M106.6 335.6h5.0v3.3h-5.0zM107.7 335.5h4.3v3.3h-4.3zM108.2 336.5h5.3v3.1h-5.3zM109.9 336.5h4.1v4.2h-4.1zM110.1 337.1h4.7v3.4h-4.7zM110.9 338.3h4.0v4.4h-4.0zM111.6 339.3h3.8v3.9h-3.8zM111.8 340.3h4.2v3.0h-4.2zM112.5 340.9h3.9v4.1h-3.9zM113.1 342.5h5.4v4.2h-5.4zM113.2 343.6h3.9v3.3h-3.9zM113.7 344.5h4.9v3.5h-4.9z" fill="#ffff00" />
<polyline fill="none" stroke="#ffff00" stroke-width="1.20" stroke-linejoin="round" stroke-linecap="round" points="230.3,284.5 242.8,267.4" />
<polyline fill="none" stroke="#ffff00" stroke-width="0.90" stroke-linejoin="round" stroke-linecap="round" points="111.2,315.8 99.6,322.2" />
<polyline fill="none" stroke="#ffff00" stroke-width="2.20" stroke-linejoin="round" stroke-linecap="round" points="240.6,259.2 241.6,262.6" />
<polyline fill="none" stroke="#ffff00" stroke-width="2.00" stroke-linejoin="round" stroke-linecap="round" points="249.8,254.4 251.6,253.0" />
<polyline fill="none" stroke="#f0f0d0" stroke-width="1.80" stroke-linejoin="round" stroke-linecap="round" points="305.0,235.8 307.5,234.9" />
<polyline fill="none" stroke="#ffff00" stroke-width="1.80" stroke-linejoin="round" stroke-linecap="round" points="307.5,234.9 310.6,233.8" />
<polyline fill="none" stroke="#ddd" stroke-width="2.20" stroke-linejoin="round" stroke-linecap="round" points="208.6,314.0 210.0,312.6" />
<polyline fill="none" stroke="#ffff00" stroke-width="2.20" stroke-linejoin="round" stroke-linecap="round" points="210.0,312.6 211.6,310.8" />
<polyline fill="none" stroke="#fff" stroke-width="1.25" stroke-linejoin="round" stroke-linecap="round" points="98.5,75.1 94.1,80.7 90.9,84.2 91.9,92.1 91.2,95.9 94.4,98.1 97.2,104.1 101.0,110.2 104.2,111.1 108.2,111.7 111.5,108.2 114.4,109.2 116.9,107.7 120.4,106.7 122.5,103.1 122.4,99.7 127.6,96.8 128.2,93.8 130.8,90.2 133.9,89.9 132.6,86.2 133.4,82.6 132.0,78.2 131.6,75.1"/>
<polyline fill="none" stroke="#fff" stroke-width="1.25" stroke-linejoin="round" stroke-linecap="round" points="59.3,179.4 68.8,179.4 70.8,177.5 72.6,173.3 74.5,173.0 82.8,176.8 87.8,181.3 97.9,178.7 109.2,173.7 119.4,167.4 125.8,162.6 127.4,161.9 127.9,154.7 130.1,154.3 130.1,149.0 133.0,147.5 130.1,143.7 126.9,145.9 124.4,141.7 127.6,139.9 128.2,136.6 130.8,134.5 153.4,133.3 153.9,146.2 158.1,145.8 161.9,146.2 163.5,139.2 161.2,137.3 162.5,133.9 165.8,134.1 168.2,131.4 169.5,134.1 172.6,136.3 178.4,136.0 182.8,138.6 185.9,139.2 190.4,137.3 196.6,137.6 203.0,139.4 204.2,142.4 207.4,143.4 211.2,142.4 213.8,140.2 215.0,142.0 218.9,142.4 221.9,140.5 223.9,136.9 225.8,136.3 227.6,137.9 230.9,137.7 234.6,134.1 233.9,132.6 237.8,136.0 243.4,130.7 242.2,129.3 238.4,131.4 237.8,130.3 242.9,127.2 247.2,125.3 249.8,126.6 251.9,125.6 255.6,122.5 253.8,125.6 256.2,127.9 259.4,127.5 260.8,123.7 262.6,123.1 263.2,116.8 270.9,117.0 271.2,120.6 273.4,121.6 276.5,119.9 276.8,122.5 280.0,122.5 281.5,130.8 282.9,133.3 282.4,138.2 277.8,137.9 277.5,136.5 274.4,137.0 277.1,145.5 284.8,143.9 284.4,141.4 286.0,141.0 289.4,145.2 294.2,142.9 291.9,138.1 293.9,137.2 295.8,141.4 305.6,136.6 301.9,129.0 294.2,132.4 287.2,128.8 294.9,125.1 287.0,110.3 298.8,104.6 308.2,123.2 312.5,122.2 313.1,125.5 306.9,128.7 308.8,132.6 319.0,127.6 312.9,116.1 315.0,114.9 319.5,120.5 324.6,116.1 322.9,113.6 320.1,114.9 322.6,111.6 311.9,103.1 317.6,96.3 332.1,107.7 337.9,101.0 335.6,98.8 331.5,101.6 320.1,90.2 322.6,82.0 329.6,79.1 351.1,85.4 352.6,75.1"/>
<polyline fill="none" stroke="#fff" stroke-width="1.25" stroke-linejoin="round" stroke-linecap="round" points="247.2,112.4 249.5,117.1"/>
<polyline fill="none" stroke="#fff" stroke-width="1.25" stroke-linejoin="round" stroke-linecap="round" points="85.8,85.8 87.6,84.6"/>
<polyline fill="none" stroke="#fff" stroke-width="1.25" stroke-linejoin="round" stroke-linecap="round" points="346.2,76.0 347.9,79.5 349.6,76.0"/>
</g>
<path d="M58.95 74.40H433.40V448.90H58.95ZM58.95 74.40v-14.70M58.95 448.90v14.70M58.95 74.40h-14.70M433.40 74.40h14.70M152.56 74.40v-14.70M152.56 448.90v14.70M58.95 168.03h-14.70M433.40 168.03h14.70M246.18 74.40v-14.70M246.18 448.90v14.70M58.95 261.65h-14.70M433.40 261.65h14.70M339.79 74.40v-14.70M339.79 448.90v14.70M58.95 355.27h-14.70M433.40 355.27h14.70M433.40 74.40v-14.70M433.40 448.90v14.70M58.95 448.90h-14.70M433.40 448.90h14.70" fill="none" stroke="#000" stroke-width="1.7"/>
<path d="M70.65 74.40v-7.20M70.65 448.90v7.20M58.95 86.10h-7.20M433.40 86.10h7.20M82.35 74.40v-7.20M82.35 448.90v7.20M58.95 97.81h-7.20M433.40 97.81h7.20M94.05 74.40v-7.20M94.05 448.90v7.20M58.95 109.51h-7.20M433.40 109.51h7.20M105.76 74.40v-7.20M105.76 448.90v7.20M58.95 121.21h-7.20M433.40 121.21h7.20M117.46 74.40v-7.20M117.46 448.90v7.20M58.95 132.92h-7.20M433.40 132.92h7.20M129.16 74.40v-7.20M129.16 448.90v7.20M58.95 144.62h-7.20M433.40 144.62h7.20M140.86 74.40v-7.20M140.86 448.90v7.20M58.95 156.32h-7.20M433.40 156.32h7.20M164.26 74.40v-7.20M164.26 448.90v7.20M58.95 179.73h-7.20M433.40 179.73h7.20M175.97 74.40v-7.20M175.97 448.90v7.20M58.95 191.43h-7.20M433.40 191.43h7.20M187.67 74.40v-7.20M187.67 448.90v7.20M58.95 203.13h-7.20M433.40 203.13h7.20M199.37 74.40v-7.20M199.37 448.90v7.20M58.95 214.84h-7.20M433.40 214.84h7.20M211.07 74.40v-7.20M211.07 448.90v7.20M58.95 226.54h-7.20M433.40 226.54h7.20M222.77 74.40v-7.20M222.77 448.90v7.20M58.95 238.24h-7.20M433.40 238.24h7.20M234.47 74.40v-7.20M234.47 448.90v7.20M58.95 249.95h-7.20M433.40 249.95h7.20M257.88 74.40v-7.20M257.88 448.90v7.20M58.95 273.35h-7.20M433.40 273.35h7.20M269.58 74.40v-7.20M269.58 448.90v7.20M58.95 285.06h-7.20M433.40 285.06h7.20M281.28 74.40v-7.20M281.28 448.90v7.20M58.95 296.76h-7.20M433.40 296.76h7.20M292.98 74.40v-7.20M292.98 448.90v7.20M58.95 308.46h-7.20M433.40 308.46h7.20M304.68 74.40v-7.20M304.68 448.90v7.20M58.95 320.17h-7.20M433.40 320.17h7.20M316.38 74.40v-7.20M316.38 448.90v7.20M58.95 331.87h-7.20M433.40 331.87h7.20M328.09 74.40v-7.20M328.09 448.90v7.20M58.95 343.57h-7.20M433.40 343.57h7.20M351.49 74.40v-7.20M351.49 448.90v7.20M58.95 366.98h-7.20M433.40 366.98h7.20M363.19 74.40v-7.20M363.19 448.90v7.20M58.95 378.68h-7.20M433.40 378.68h7.20M374.89 74.40v-7.20M374.89 448.90v7.20M58.95 390.38h-7.20M433.40 390.38h7.20M386.59 74.40v-7.20M386.59 448.90v7.20M58.95 402.09h-7.20M433.40 402.09h7.20M398.30 74.40v-7.20M398.30 448.90v7.20M58.95 413.79h-7.20M433.40 413.79h7.20M410.00 74.40v-7.20M410.00 448.90v7.20M58.95 425.49h-7.20M433.40 425.49h7.20M421.70 74.40v-7.20M421.70 448.90v7.20M58.95 437.20h-7.20M433.40 437.20h7.20" fill="none" stroke="#000" stroke-width="1.05"/>
<text transform="translate(59.0 500.0) scale(0.93 1)" text-anchor="middle" font-size="29" font-family="Liberation Sans, sans-serif" font-weight="bold" stroke="#000" stroke-width="0.55" stroke-linejoin="round">−8</text>
<text transform="translate(152.6 500.0) scale(0.93 1)" text-anchor="middle" font-size="29" font-family="Liberation Sans, sans-serif" font-weight="bold" stroke="#000" stroke-width="0.55" stroke-linejoin="round">−4</text>
<text transform="translate(246.2 500.0) scale(0.93 1)" text-anchor="middle" font-size="29" font-family="Liberation Sans, sans-serif" font-weight="bold" stroke="#000" stroke-width="0.55" stroke-linejoin="round">0</text>
<text transform="translate(339.8 500.0) scale(0.93 1)" text-anchor="middle" font-size="29" font-family="Liberation Sans, sans-serif" font-weight="bold" stroke="#000" stroke-width="0.55" stroke-linejoin="round">4</text>
<text transform="translate(433.4 500.0) scale(0.93 1)" text-anchor="middle" font-size="29" font-family="Liberation Sans, sans-serif" font-weight="bold" stroke="#000" stroke-width="0.55" stroke-linejoin="round">8</text>
<text transform="translate(30.7 84.7) scale(0.93 1)" text-anchor="end" font-size="29" font-family="Liberation Sans, sans-serif" font-weight="bold" stroke="#000" stroke-width="0.55" stroke-linejoin="round">8</text>
<text transform="translate(30.7 178.3) scale(0.93 1)" text-anchor="end" font-size="29" font-family="Liberation Sans, sans-serif" font-weight="bold" stroke="#000" stroke-width="0.55" stroke-linejoin="round">4</text>
<text transform="translate(30.7 271.9) scale(0.93 1)" text-anchor="end" font-size="29" font-family="Liberation Sans, sans-serif" font-weight="bold" stroke="#000" stroke-width="0.55" stroke-linejoin="round">0</text>
<text transform="translate(30.7 365.6) scale(0.93 1)" text-anchor="end" font-size="29" font-family="Liberation Sans, sans-serif" font-weight="bold" stroke="#000" stroke-width="0.55" stroke-linejoin="round">−4</text>
<text transform="translate(30.7 459.2) scale(0.93 1)" text-anchor="end" font-size="29" font-family="Liberation Sans, sans-serif" font-weight="bold" stroke="#000" stroke-width="0.55" stroke-linejoin="round">−8</text>
<g clip-path="url(#c2)" shape-rendering="crispEdges">
<polygon points="667.6,261.5 634.4,230.6 635.7,229.3" fill="#ff840b" />
<polygon points="667.6,261.5 643.7,239.2 644.6,238.3" fill="#ff7308" />
<polygon points="667.6,261.5 653.7,248.5 654.2,248.0" fill="#ff5503" />
<polygon points="667.6,261.5 635.3,229.2 636.0,228.5" fill="#ff810b" />
<polygon points="667.6,261.5 644.4,238.3 644.9,237.7" fill="#ff7408" />
<polygon points="667.6,261.5 654.0,247.9 654.3,247.6" fill="#ff5703" />
<polygon points="667.6,261.5 634.8,227.5 635.7,226.7" fill="#ff7f0a" />
<polygon points="667.6,261.5 644.0,237.0 644.6,236.4" fill="#ff7508" />
<polygon points="667.6,261.5 653.8,247.2 654.2,246.9" fill="#ff5703" />
<polygon points="667.6,261.5 634.6,225.9 635.5,225.1" fill="#ff870c" />
<polygon points="667.6,261.5 643.8,235.8 644.5,235.3" fill="#ff7108" />
<polygon points="667.6,261.5 653.7,246.5 654.1,246.2" fill="#ff5903" />
<polygon points="667.6,261.5 633.0,222.5 634.2,221.5" fill="#ff8d0d" />
<polygon points="667.6,261.5 642.7,233.4 643.5,232.7" fill="#ff7308" />
<polygon points="667.6,261.5 653.1,245.1 653.6,244.7" fill="#ff5903" />
<polygon points="667.6,261.5 633.7,221.3 634.6,220.6" fill="#ff7d0a" />
<polygon points="667.6,261.5 643.2,232.5 643.9,232.0" fill="#ff6e07" />
<polygon points="667.6,261.5 653.4,244.6 653.8,244.3" fill="#ff5903" />
<polygon points="667.6,261.5 635.8,222.3 637.0,221.4" fill="#ff8b0d" />
<polygon points="667.6,261.5 644.7,233.3 645.5,232.6" fill="#ff6f07" />
<polygon points="667.6,261.5 654.2,245.0 654.7,244.6" fill="#ff5803" />
<polygon points="667.6,261.5 639.5,225.0 640.4,224.3" fill="#ff910e" />
<polygon points="667.6,261.5 647.3,235.2 648.0,234.7" fill="#ff7008" />
<polygon points="667.6,261.5 655.8,246.2 656.2,245.9" fill="#ff5a03" />
<polygon points="667.6,261.5 638.9,222.6 640.5,221.5" fill="#ff800b" />
<polygon points="667.6,261.5 647.0,233.5 648.1,232.7" fill="#ff7408" />
<polygon points="667.6,261.5 655.6,245.2 656.2,244.7" fill="#ff5903" />
<polygon points="667.6,261.5 640.4,221.7 641.4,221.0" fill="#ff910e" />
<polygon points="667.6,261.5 648.0,232.9 648.7,232.4" fill="#ff7609" />
<polygon points="667.6,261.5 656.2,244.8 656.6,244.5" fill="#ff5703" />
<polygon points="667.6,261.5 640.9,220.7 641.9,220.0" fill="#ff8a0c" />
<polygon points="667.6,261.5 648.4,232.1 649.1,231.6" fill="#ff7208" />
<polygon points="667.6,261.5 656.4,244.3 656.8,244.1" fill="#ff5603" />
<polygon points="667.6,261.5 643.6,223.1 644.4,222.6" fill="#ff7e0a" />
<polygon points="667.6,261.5 650.3,233.9 650.9,233.5" fill="#ff7308" />
<polygon points="667.6,261.5 657.5,245.4 657.9,245.2" fill="#ff5502" />
<polygon points="667.6,261.5 641.8,218.6 643.5,217.6" fill="#ff810b" />
<polygon points="667.6,261.5 649.0,230.6 650.3,229.9" fill="#ff7108" />
<polygon points="667.6,261.5 656.8,243.5 657.5,243.1" fill="#ff5703" />
<polygon points="667.6,261.5 643.1,217.4 644.5,216.6" fill="#ff8c0d" />
<polygon points="667.6,261.5 650.0,229.7 651.0,229.2" fill="#ff7208" />
<polygon points="667.6,261.5 657.3,243.0 657.9,242.7" fill="#ff5603" />
<polygon points="667.6,261.5 644.9,218.0 645.9,217.5" fill="#ff800b" />
<polygon points="667.6,261.5 651.3,230.1 652.0,229.8" fill="#ff7408" />
<polygon points="667.6,261.5 658.1,243.2 658.5,243.0" fill="#ff5803" />
<polygon points="667.6,261.5 644.4,215.0 646.3,214.2" fill="#ff800b" />
<polygon points="667.6,261.5 650.9,228.1 652.3,227.4" fill="#ff7408" />
<polygon points="667.6,261.5 657.9,242.0 658.6,241.6" fill="#ff5402" />
<polygon points="667.6,261.5 648.5,219.7 650.2,218.9" fill="#ff820b" />
<polygon points="667.6,261.5 653.9,231.4 655.1,230.9" fill="#ff6c07" />
<polygon points="667.6,261.5 659.6,243.9 660.3,243.6" fill="#ff5803" />
<polygon points="667.6,261.5 647.2,212.3 649.2,211.5" fill="#ff860c" />
<polygon points="667.6,261.5 652.9,226.1 654.3,225.5" fill="#ff7208" />
<polygon points="667.6,261.5 659.0,240.8 659.9,240.5" fill="#ff5603" />
<polygon points="667.6,261.5 652.0,219.7 652.9,219.4" fill="#ff920e" />
<polygon points="667.6,261.5 656.4,231.4 657.0,231.2" fill="#ff7108" />
<polygon points="667.6,261.5 661.0,243.9 661.4,243.8" fill="#ff5803" />
<polygon points="667.6,261.5 649.7,211.0 651.3,210.5" fill="#ff7e0a" />
<polygon points="667.6,261.5 654.7,225.2 655.8,224.8" fill="#ff7108" />
<polygon points="667.6,261.5 660.1,240.3 660.7,240.1" fill="#ff5703" />
<polygon points="667.6,261.5 651.6,212.3 652.9,211.9" fill="#ff840b" />
<polygon points="667.6,261.5 656.1,226.1 657.0,225.8" fill="#ff6b07" />
<polygon points="667.6,261.5 660.9,240.8 661.4,240.7" fill="#ff5603" />
<polygon points="667.6,261.5 653.0,213.1 654.5,212.7" fill="#ff8c0d" />
<polygon points="667.6,261.5 657.1,226.7 658.2,226.4" fill="#ff6a06" />
<polygon points="667.6,261.5 661.5,241.2 662.1,241.0" fill="#ff5603" />
<polygon points="667.6,261.5 655.1,216.0 656.3,215.7" fill="#ff8a0c" />
<polygon points="667.6,261.5 658.6,228.7 659.5,228.5" fill="#ff7609" />
<polygon points="667.6,261.5 662.4,242.4 662.9,242.3" fill="#ff5903" />
<polygon points="667.6,261.5 656.5,217.5 657.7,217.2" fill="#ff830b" />
<polygon points="667.6,261.5 659.6,229.8 660.4,229.6" fill="#ff7308" />
<polygon points="667.6,261.5 663.0,243.0 663.4,242.9" fill="#ff5603" />
<polygon points="667.6,261.5 657.0,215.2 658.4,214.9" fill="#ff880c" />
<polygon points="667.6,261.5 660.0,228.1 661.0,227.9" fill="#ff6f07" />
<polygon points="667.6,261.5 663.1,242.0 663.7,241.9" fill="#ff5903" />
<polygon points="667.6,261.5 658.7,217.3 659.8,217.1" fill="#ff8e0d" />
<polygon points="667.6,261.5 661.2,229.7 662.0,229.5" fill="#ff7809" />
<polygon points="667.6,261.5 663.9,242.9 664.3,242.8" fill="#ff5a03" />
<polygon points="667.6,261.5 658.2,209.1 660.2,208.8" fill="#ff870c" />
<polygon points="667.6,261.5 660.8,223.8 662.3,223.6" fill="#ff7108" />
<polygon points="667.6,261.5 663.6,239.5 664.5,239.4" fill="#ff5502" />
<polygon points="667.6,261.5 660.4,211.6 661.9,211.4" fill="#ff7f0a" />
<polygon points="667.6,261.5 662.4,225.6 663.5,225.4" fill="#ff6d07" />
<polygon points="667.6,261.5 664.6,240.5 665.2,240.5" fill="#ff5502" />
<polygon points="667.6,261.5 663.1,223.4 664.6,223.2" fill="#ff800b" />
<polygon points="667.6,261.5 664.4,234.1 665.5,233.9" fill="#ff7508" />
<polygon points="667.6,261.5 665.7,245.5 666.3,245.4" fill="#ff5402" />
<polygon points="667.6,261.5 663.8,215.5 665.6,215.4" fill="#ff7d0a" />
<polygon points="667.6,261.5 664.9,228.4 666.2,228.3" fill="#ff7408" />
<polygon points="667.6,261.5 666.0,242.2 666.8,242.1" fill="#ff5903" />
<polygon points="667.6,261.5 665.3,212.5 666.4,212.5" fill="#ff8d0d" />
<polygon points="667.6,261.5 665.9,226.2 666.7,226.2" fill="#ff7609" />
<polygon points="667.6,261.5 666.6,240.9 667.1,240.9" fill="#ff5402" />
<polygon points="667.6,261.5 666.3,216.5 667.6,216.5" fill="#ff890d" />
<polygon points="667.6,261.5 666.6,229.1 667.6,229.1" fill="#ff7108" />
<polygon points="667.6,261.5 667.0,242.6 667.6,242.6" fill="#ff5603" />
<polygon points="667.6,261.5 667.4,211.6 668.9,211.6" fill="#ff850b" />
<polygon points="667.6,261.5 667.5,225.6 668.6,225.6" fill="#ff7008" />
<polygon points="667.6,261.5 667.5,240.5 668.2,240.5" fill="#ff5302" />
<polygon points="667.6,261.5 668.8,207.7 670.9,207.8" fill="#ff8a0c" />
<polygon points="667.6,261.5 668.5,222.8 670.0,222.8" fill="#ff6706" />
<polygon points="667.6,261.5 668.1,238.9 669.0,239.0" fill="#ff5503" />
<polygon points="667.6,261.5 670.4,212.1 672.0,212.2" fill="#ff7f0b" />
<polygon points="667.6,261.5 669.7,225.9 670.7,226.0" fill="#ff6f08" />
<polygon points="667.6,261.5 668.8,240.7 669.4,240.8" fill="#ff5202" />
<polygon points="667.6,261.5 671.7,212.9 673.2,213.1" fill="#ff890c" />
<polygon points="667.6,261.5 670.5,226.5 671.6,226.6" fill="#ff6806" />
<polygon points="667.6,261.5 669.3,241.1 669.9,241.2" fill="#ff5403" />
<polygon points="667.6,261.5 672.5,217.1 673.5,217.2" fill="#ff810a" />
<polygon points="667.6,261.5 671.1,229.5 671.8,229.6" fill="#ff7208" />
<polygon points="667.6,261.5 669.7,242.8 670.1,242.9" fill="#ff5102" />
<polygon points="667.6,261.5 673.8,213.5 675.0,213.6" fill="#ff7709" />
<polygon points="667.6,261.5 672.0,226.9 672.9,227.0" fill="#ff6606" />
<polygon points="667.6,261.5 670.2,241.3 670.7,241.4" fill="#ff5403" />
<polygon points="667.6,261.5 674.2,217.2 675.2,217.3" fill="#ff820b" />
<polygon points="667.6,261.5 672.4,229.6 673.1,229.7" fill="#ff6506" />
<polygon points="667.6,261.5 670.4,242.9 670.8,242.9" fill="#ff5203" />
<polygon points="667.6,261.5 675.0,217.5 676.7,217.8" fill="#ff7f0a" />
<polygon points="667.6,261.5 672.9,229.8 674.1,230.0" fill="#ff6c07" />
<polygon points="667.6,261.5 670.7,243.0 671.4,243.2" fill="#ff5203" />
<polygon points="667.6,261.5 677.6,212.5 678.6,212.7" fill="#ff840b" />
<polygon points="667.6,261.5 674.8,226.2 675.5,226.4" fill="#ff6306" />
<polygon points="667.6,261.5 671.8,240.9 672.2,241.0" fill="#ff4f02" />
<polygon points="667.6,261.5 677.9,215.0 678.9,215.2" fill="#ff7d0a" />
<polygon points="667.6,261.5 675.0,228.0 675.7,228.2" fill="#ff6707" />
<polygon points="667.6,261.5 671.9,242.0 672.4,242.1" fill="#ff5003" />
<polygon points="667.6,261.5 679.4,212.3 680.7,212.6" fill="#ff7b0a" />
<polygon points="667.6,261.5 676.1,226.1 677.0,226.3" fill="#ff6106" />
<polygon points="667.6,261.5 672.6,240.8 673.1,241.0" fill="#ff4e02" />
<polygon points="667.6,261.5 677.7,223.1 678.5,223.3" fill="#ff800a" />
<polygon points="667.6,261.5 674.9,233.8 675.5,234.0" fill="#ff6e07" />
<polygon points="667.6,261.5 671.8,245.4 672.2,245.5" fill="#ff4e02" />
<polygon points="667.6,261.5 680.5,215.6 681.5,215.9" fill="#ff830b" />
<polygon points="667.6,261.5 676.9,228.4 677.6,228.6" fill="#ff6806" />
<polygon points="667.6,261.5 673.0,242.2 673.4,242.3" fill="#ff4f03" />
<polygon points="667.6,261.5 681.9,213.9 682.9,214.2" fill="#ff7308" />
<polygon points="667.6,261.5 677.9,227.2 678.6,227.4" fill="#ff6907" />
<polygon points="667.6,261.5 673.6,241.5 674.0,241.6" fill="#ff4c02" />
<polygon points="667.6,261.5 682.5,215.0 683.5,215.3" fill="#ff7709" />
<polygon points="667.6,261.5 678.3,228.0 679.0,228.2" fill="#ff6807" />
<polygon points="667.6,261.5 673.8,242.0 674.3,242.1" fill="#ff4f03" />
<polygon points="667.6,261.5 680.9,222.3 682.4,222.8" fill="#ff7008" />
<polygon points="667.6,261.5 677.2,233.3 678.3,233.7" fill="#ff6506" />
<polygon points="667.6,261.5 673.2,245.0 673.8,245.3" fill="#ff4e02" />
<polygon points="667.6,261.5 682.2,222.8 683.0,223.2" fill="#ff7209" />
<polygon points="667.6,261.5 678.1,233.7 678.7,233.9" fill="#ff6106" />
<polygon points="667.6,261.5 673.7,245.3 674.1,245.4" fill="#ff4c02" />
<polygon points="667.6,261.5 685.7,216.0 686.7,216.4" fill="#ff6f07" />
<polygon points="667.6,261.5 680.6,228.7 681.3,229.0" fill="#ff5c05" />
<polygon points="667.6,261.5 675.2,242.4 675.6,242.6" fill="#ff4902" />
<polygon points="667.6,261.5 684.1,222.1 685.3,222.6" fill="#ff7208" />
<polygon points="667.6,261.5 679.5,233.1 680.3,233.5" fill="#ff6506" />
<polygon points="667.6,261.5 674.5,244.9 675.0,245.2" fill="#ff4902" />
<polygon points="667.6,261.5 686.7,219.0 687.8,219.5" fill="#ff800a" />
<polygon points="667.6,261.5 681.4,230.9 682.1,231.3" fill="#ff6506" />
<polygon points="667.6,261.5 675.6,243.7 676.1,243.9" fill="#ff4902" />
<polygon points="667.6,261.5 685.2,224.3 686.7,225.1" fill="#ff6e07" />
<polygon points="667.6,261.5 680.3,234.7 681.3,235.3" fill="#ff6106" />
<polygon points="667.6,261.5 675.0,245.9 675.6,246.2" fill="#ff4b02" />
<polygon points="667.6,261.5 686.8,224.5 687.6,224.9" fill="#ff7709" />
<polygon points="667.6,261.5 681.4,234.8 682.0,235.1" fill="#ff6106" />
<polygon points="667.6,261.5 675.7,245.9 676.0,246.1" fill="#ff4a02" />
<polygon points="667.6,261.5 690.2,219.6 691.3,220.2" fill="#ff6e08" />
<polygon points="667.6,261.5 683.9,231.4 684.7,231.8" fill="#ff6607" />
<polygon points="667.6,261.5 677.1,243.9 677.5,244.2" fill="#ff4802" />
<polygon points="667.6,261.5 689.4,223.1 690.6,223.8" fill="#ff7a09" />
<polygon points="667.6,261.5 683.3,233.9 684.1,234.4" fill="#ff6005" />
<polygon points="667.6,261.5 676.8,245.4 677.2,245.7" fill="#ff4502" />
<polygon points="667.6,261.5 692.8,219.7 693.8,220.4" fill="#ff6e07" />
<polygon points="667.6,261.5 685.7,231.4 686.5,231.9" fill="#ff5d05" />
<polygon points="667.6,261.5 678.2,244.0 678.6,244.2" fill="#ff4902" />
<polygon points="667.6,261.5 689.5,226.8 690.6,227.5" fill="#ff6e07" />
<polygon points="667.6,261.5 683.4,236.5 684.2,237.0" fill="#ff5604" />
<polygon points="667.6,261.5 676.8,246.9 677.3,247.2" fill="#ff4502" />
<polygon points="667.6,261.5 693.7,222.4 694.6,223.0" fill="#ff6907" />
<polygon points="667.6,261.5 686.4,233.4 687.0,233.8" fill="#ff5b05" />
<polygon points="667.6,261.5 678.6,245.1 678.9,245.3" fill="#ff4302" />
<polygon points="667.6,261.5 692.9,225.0 694.0,225.8" fill="#ff7108" />
<polygon points="667.6,261.5 685.8,235.3 686.6,235.8" fill="#ff5704" />
<polygon points="667.6,261.5 678.2,246.2 678.7,246.5" fill="#ff4502" />
<polygon points="667.6,261.5 697.0,221.5 697.8,222.2" fill="#ff7107" />
<polygon points="667.6,261.5 688.7,232.7 689.4,233.2" fill="#ff5d05" />
<polygon points="667.6,261.5 679.9,244.7 680.3,245.0" fill="#ff4402" />
<polygon points="667.6,261.5 697.4,222.4 698.5,223.4" fill="#ff7308" />
<polygon points="667.6,261.5 689.0,233.4 689.9,234.0" fill="#ff5504" />
<polygon points="667.6,261.5 680.1,245.1 680.6,245.5" fill="#ff4101" />
<polygon points="667.6,261.5 698.3,223.3 699.4,224.3" fill="#ff6f07" />
<polygon points="667.6,261.5 689.7,234.0 690.5,234.7" fill="#ff5804" />
<polygon points="667.6,261.5 680.5,245.5 681.0,245.9" fill="#ff4302" />
<polygon points="667.6,261.5 697.0,226.8 698.4,228.0" fill="#ff7007" />
<polygon points="667.6,261.5 688.8,236.5 689.8,237.4" fill="#ff5e05" />
<polygon points="667.6,261.5 680.0,246.9 680.5,247.4" fill="#ff4402" />
<polygon points="667.6,261.5 702.1,223.5 703.3,224.6" fill="#ff7408" />
<polygon points="667.6,261.5 692.5,234.2 693.3,234.9" fill="#ff5304" />
<polygon points="667.6,261.5 682.1,245.6 682.6,246.0" fill="#ff4001" />
<polygon points="667.6,261.5 700.2,227.5 701.5,228.8" fill="#ff6f07" />
<polygon points="667.6,261.5 691.0,237.1 692.0,238.0" fill="#ff5d05" />
<polygon points="667.6,261.5 681.3,247.2 681.8,247.8" fill="#ff4101" />
<polygon points="667.6,261.5 701.0,229.0 701.8,229.9" fill="#ff6d06" />
<polygon points="667.6,261.5 691.6,238.1 692.2,238.7" fill="#ff5704" />
<polygon points="667.6,261.5 681.6,247.9 682.0,248.2" fill="#ff4202" />
<polygon points="667.6,261.5 700.3,231.0 701.2,232.0" fill="#ff7007" />
<polygon points="667.6,261.5 691.1,239.6 691.8,240.3" fill="#ff5604" />
<polygon points="667.6,261.5 681.3,248.7 681.7,249.1" fill="#ff3e01" />
<polygon points="667.6,261.5 707.9,225.9 708.9,227.1" fill="#ff6c07" />
<polygon points="667.6,261.5 696.6,235.9 697.4,236.8" fill="#ff5304" />
<polygon points="667.6,261.5 684.5,246.5 685.0,247.1" fill="#ff4002" />
<polygon points="667.6,261.5 708.0,227.6 708.7,228.5" fill="#ff6005" />
<polygon points="667.6,261.5 696.7,237.1 697.2,237.7" fill="#ff5904" />
<polygon points="667.6,261.5 684.6,247.3 684.9,247.6" fill="#ff3e01" />
<polygon points="667.6,261.5 707.2,229.4 708.0,230.4" fill="#ff5d05" />
<polygon points="667.6,261.5 696.1,238.4 696.7,239.1" fill="#ff4e03" />
<polygon points="667.6,261.5 684.2,248.0 684.6,248.5" fill="#ff3d01" />
<polygon points="667.6,261.5 709.9,228.7 710.9,230.0" fill="#ff5f05" />
<polygon points="667.6,261.5 698.0,237.9 698.7,238.8" fill="#ff5504" />
<polygon points="667.6,261.5 685.4,247.7 685.8,248.3" fill="#ff3f01" />
<polygon points="667.6,261.5 705.0,234.0 705.6,234.8" fill="#ff6b06" />
<polygon points="667.6,261.5 694.5,241.7 695.0,242.3" fill="#ff4f03" />
<polygon points="667.6,261.5 683.3,250.0 683.6,250.3" fill="#ff3a01" />
<polygon points="667.6,261.5 707.2,233.5 707.9,234.5" fill="#ff5a04" />
<polygon points="667.6,261.5 696.1,241.3 696.6,242.1" fill="#ff4f03" />
<polygon points="667.6,261.5 684.2,249.7 684.5,250.2" fill="#ff3901" />
<polygon points="667.6,261.5 708.4,233.9 709.2,235.2" fill="#ff6505" />
<polygon points="667.6,261.5 696.9,241.6 697.5,242.5" fill="#ff4f03" />
<polygon points="667.6,261.5 684.7,249.9 685.1,250.4" fill="#ff3b01" />
<polygon points="667.6,261.5 708.0,235.7 708.8,236.9" fill="#ff6706" />
<polygon points="667.6,261.5 696.7,242.9 697.2,243.8" fill="#ff4b03" />
<polygon points="667.6,261.5 684.6,250.6 684.9,251.2" fill="#ff3b01" />
<polygon points="667.6,261.5 715.4,232.6 716.5,234.5" fill="#ff6905" />
<polygon points="667.6,261.5 702.0,240.7 702.8,242.1" fill="#ff5403" />
<polygon points="667.6,261.5 687.7,249.4 688.2,250.2" fill="#ff3701" />
<polygon points="667.6,261.5 713.1,236.2 713.9,237.6" fill="#ff5804" />
<polygon points="667.6,261.5 700.4,243.3 700.9,244.3" fill="#ff4f03" />
<polygon points="667.6,261.5 686.7,250.9 687.0,251.4" fill="#ff3901" />
<polygon points="667.6,261.5 705.1,241.9 705.7,243.0" fill="#ff6004" />
<polygon points="667.6,261.5 694.6,247.4 695.0,248.2" fill="#ff5203" />
<polygon points="667.6,261.5 683.4,253.3 683.6,253.7" fill="#ff3801" />
<polygon points="667.6,261.5 713.5,239.0 714.2,240.4" fill="#ff6004" />
<polygon points="667.6,261.5 700.7,245.3 701.1,246.3" fill="#ff4d03" />
<polygon points="667.6,261.5 686.9,252.1 687.2,252.6" fill="#ff3801" />
<polygon points="667.6,261.5 712.6,240.9 713.2,242.3" fill="#ff6305" />
<polygon points="667.6,261.5 700.0,246.7 700.4,247.7" fill="#ff4b03" />
<polygon points="667.6,261.5 686.5,252.8 686.8,253.4" fill="#ff3401" />
<polygon points="667.6,261.5 717.0,240.4 717.6,242.0" fill="#ff6004" />
<polygon points="667.6,261.5 703.1,246.3 703.6,247.4" fill="#ff4b02" />
<polygon points="667.6,261.5 688.3,252.7 688.6,253.3" fill="#ff3501" />
<polygon points="667.6,261.5 706.2,246.2 706.7,247.4" fill="#ff5e04" />
<polygon points="667.6,261.5 695.4,250.5 695.7,251.3" fill="#ff4d02" />
<polygon points="667.6,261.5 683.8,255.1 684.0,255.6" fill="#ff3401" />
<polygon points="667.6,261.5 716.1,243.7 716.6,245.0" fill="#ff6204" />
<polygon points="667.6,261.5 702.5,248.7 702.8,249.6" fill="#ff4b02" />
<polygon points="667.6,261.5 688.0,254.0 688.2,254.6" fill="#ff3301" />
<polygon points="667.6,261.5 718.0,244.2 718.4,245.5" fill="#ff6104" />
<polygon points="667.6,261.5 703.9,249.1 704.2,250.0" fill="#ff4702" />
<polygon points="667.6,261.5 688.8,254.3 689.0,254.8" fill="#ff3201" />
<polygon points="667.6,261.5 721.4,244.3 721.8,245.7" fill="#ff5d04" />
<polygon points="667.6,261.5 706.3,249.1 706.6,250.1" fill="#ff4802" />
<polygon points="667.6,261.5 690.2,254.3 690.4,254.9" fill="#ff3301" />
<polygon points="667.6,261.5 717.9,246.6 718.3,247.9" fill="#ff5303" />
<polygon points="667.6,261.5 703.8,250.8 704.1,251.7" fill="#ff4c03" />
<polygon points="667.6,261.5 688.7,255.2 688.9,255.8" fill="#ff3501" />
<polygon points="667.6,261.5 718.6,247.6 719.1,249.6" fill="#ff5e03" />
<polygon points="667.6,261.5 704.3,251.5 704.7,252.9" fill="#ff4201" />
<polygon points="667.6,261.5 689.0,255.6 689.2,256.5" fill="#ff3401" />
<polygon points="667.6,261.5 721.9,248.7 722.2,249.8" fill="#ff5903" />
<polygon points="667.6,261.5 706.7,252.3 706.9,253.1" fill="#ff4402" />
<polygon points="667.6,261.5 690.4,256.1 690.5,256.6" fill="#ff3001" />
<polygon points="667.6,261.5 718.3,250.5 718.7,252.5" fill="#ff5d03" />
<polygon points="667.6,261.5 704.1,253.5 704.4,255.0" fill="#ff4602" />
<polygon points="667.6,261.5 688.9,256.9 689.0,257.7" fill="#ff2f01" />
<polygon points="667.6,261.5 714.6,253.0 714.8,254.4" fill="#ff5002" />
<polygon points="667.6,261.5 701.4,255.4 701.6,256.4" fill="#ff4202" />
<polygon points="667.6,261.5 687.3,257.9 687.4,258.5" fill="#ff3001" />
<polygon points="667.6,261.5 720.3,253.3 720.6,255.4" fill="#ff5c03" />
<polygon points="667.6,261.5 705.6,255.6 705.8,257.1" fill="#ff4001" />
<polygon points="667.6,261.5 689.7,258.1 689.9,258.9" fill="#ff3001" />
<polygon points="667.6,261.5 718.6,255.4 718.8,256.7" fill="#ff5702" />
<polygon points="667.6,261.5 704.3,257.1 704.4,258.0" fill="#ff4701" />
<polygon points="667.6,261.5 689.0,258.9 689.1,259.5" fill="#ff2d00" />
<polygon points="667.6,261.5 716.7,256.7 716.8,258.2" fill="#ff5202" />
<polygon points="667.6,261.5 702.9,258.0 703.0,259.1" fill="#ff4601" />
<polygon points="667.6,261.5 688.2,259.5 688.3,260.1" fill="#ff2d00" />
<polygon points="667.6,261.5 706.9,258.7 707.0,260.2" fill="#ff5702" />
<polygon points="667.6,261.5 695.9,259.5 696.0,260.6" fill="#ff4301" />
<polygon points="667.6,261.5 684.1,260.3 684.1,261.0" fill="#ff2b00" />
<polygon points="667.6,261.5 715.2,259.8 715.3,261.6" fill="#ff5802" />
<polygon points="667.6,261.5 701.9,260.2 701.9,261.6" fill="#ff3d01" />
<polygon points="667.6,261.5 687.6,260.8 687.6,261.6" fill="#ff2a00" />
<polygon points="667.6,261.5 714.6,261.4 714.6,262.4" fill="#ff4801" />
<polygon points="667.6,261.5 701.4,261.4 701.4,262.2" fill="#ff3c01" />
<polygon points="667.6,261.5 687.3,261.5 687.3,261.9" fill="#ff2b00" />
<polygon points="667.6,261.5 714.0,262.2 713.9,263.6" fill="#ff5101" />
<polygon points="667.6,261.5 701.0,262.0 700.9,263.0" fill="#ff3900" />
<polygon points="667.6,261.5 687.1,261.8 687.1,262.4" fill="#ff2a00" />
<polygon points="667.6,261.5 721.3,263.7 721.1,265.9" fill="#ff4501" />
<polygon points="667.6,261.5 706.2,263.1 706.2,264.6" fill="#ff3a00" />
<polygon points="667.6,261.5 690.1,262.4 690.1,263.3" fill="#ff2b00" />
<polygon points="667.6,261.5 713.0,265.0 712.9,266.0" fill="#ff4801" />
<polygon points="667.6,261.5 700.3,264.0 700.2,264.7" fill="#ff3b01" />
<polygon points="667.6,261.5 686.7,263.0 686.6,263.4" fill="#ff2700" />
<polygon points="667.6,261.5 713.0,265.8 712.9,266.8" fill="#ff4401" />
<polygon points="667.6,261.5 700.3,264.6 700.2,265.3" fill="#ff3700" />
<polygon points="667.6,261.5 686.7,263.3 686.6,263.7" fill="#ff2b00" />
<polygon points="667.6,261.5 711.3,266.4 711.1,267.5" fill="#ff4b00" />
<polygon points="667.6,261.5 699.0,265.0 698.9,265.8" fill="#ff3c00" />
<polygon points="667.6,261.5 685.9,263.6 685.9,264.0" fill="#ff2900" />
<polygon points="667.6,261.5 717.2,268.1 717.0,269.2" fill="#ff5100" />
<polygon points="667.6,261.5 703.3,266.3 703.2,267.0" fill="#ff3600" />
<polygon points="667.6,261.5 688.4,264.3 688.4,264.7" fill="#ff2a00" />
<polygon points="667.6,261.5 718.9,269.3 718.7,270.6" fill="#ff4400" />
<polygon points="667.6,261.5 704.5,267.1 704.4,268.0" fill="#ff3700" />
<polygon points="667.6,261.5 689.1,264.8 689.1,265.3" fill="#ff2600" />
<polygon points="667.6,261.5 704.8,267.9 704.7,268.7" fill="#ff4f00" />
<polygon points="667.6,261.5 694.4,266.1 694.3,266.7" fill="#ff3600" />
<polygon points="667.6,261.5 683.2,264.2 683.2,264.5" fill="#ff2600" />
<polygon points="667.6,261.5 717.7,271.1 717.5,272.1" fill="#ff4900" />
<polygon points="667.6,261.5 703.7,268.4 703.5,269.2" fill="#ff3b00" />
<polygon points="667.6,261.5 688.6,265.5 688.5,266.0" fill="#ff2900" />
<polygon points="667.6,261.5 715.1,271.4 714.8,272.9" fill="#ff4700" />
<polygon points="667.6,261.5 701.8,268.6 701.6,269.7" fill="#ff3e00" />
<polygon points="667.6,261.5 687.5,265.7 687.4,266.3" fill="#ff2600" />
<polygon points="667.6,261.5 719.2,273.7 718.6,275.7" fill="#ff4e00" />
<polygon points="667.6,261.5 704.7,270.3 704.4,271.7" fill="#ff3a00" />
<polygon points="667.6,261.5 689.3,266.6 689.0,267.5" fill="#ff2600" />
<polygon points="667.6,261.5 716.8,275.0 716.4,276.5" fill="#ff5000" />
<polygon points="667.6,261.5 703.0,271.2 702.7,272.3" fill="#ff3c00" />
<polygon points="667.6,261.5 688.3,267.2 688.1,267.8" fill="#ff2700" />
<polygon points="667.6,261.5 717.5,276.6 717.1,277.6" fill="#ff4f00" />
<polygon points="667.6,261.5 703.5,272.3 703.3,273.1" fill="#ff3400" />
<polygon points="667.6,261.5 688.5,267.8 688.4,268.3" fill="#ff2700" />
<polygon points="667.6,261.5 715.6,276.9 715.1,278.4" fill="#ff4b00" />
<polygon points="667.6,261.5 702.1,272.6 701.8,273.6" fill="#ff3800" />
<polygon points="667.6,261.5 687.7,268.0 687.5,268.6" fill="#ff2700" />
<polygon points="667.6,261.5 715.4,278.2 714.7,280.1" fill="#ff4800" />
<polygon points="667.6,261.5 702.0,273.5 701.5,274.9" fill="#ff3a00" />
<polygon points="667.6,261.5 687.7,268.5 687.4,269.3" fill="#ff2900" />
<polygon points="667.6,261.5 715.0,280.0 714.6,281.2" fill="#ff4e00" />
<polygon points="667.6,261.5 701.8,274.8 701.4,275.7" fill="#ff3700" />
<polygon points="667.6,261.5 687.5,269.3 687.3,269.8" fill="#ff2500" />
<polygon points="667.6,261.5 712.5,280.1 711.9,281.5" fill="#ff4500" />
<polygon points="667.6,261.5 700.0,274.9 699.5,275.9" fill="#ff3a00" />
<polygon points="667.6,261.5 686.5,269.3 686.2,269.9" fill="#ff2700" />
<polygon points="667.6,261.5 714.4,282.3 713.9,283.5" fill="#ff4400" />
<polygon points="667.6,261.5 701.3,276.5 700.9,277.4" fill="#ff3d00" />
<polygon points="667.6,261.5 687.3,270.3 687.0,270.8" fill="#ff2800" />
<polygon points="667.6,261.5 710.3,281.6 709.6,282.9" fill="#ff4400" />
<polygon points="667.6,261.5 698.3,276.0 697.9,276.9" fill="#ff3500" />
<polygon points="667.6,261.5 685.5,269.9 685.3,270.5" fill="#ff2800" />
<polygon points="667.6,261.5 709.4,282.5 708.8,283.8" fill="#ff4d00" />
<polygon points="667.6,261.5 697.7,276.7 697.3,277.6" fill="#ff3600" />
<polygon points="667.6,261.5 685.2,270.3 684.9,270.9" fill="#ff2500" />
<polygon points="667.6,261.5 705.7,281.9 704.9,283.4" fill="#ff4e00" />
<polygon points="667.6,261.5 695.0,276.2 694.4,277.3" fill="#ff3b00" />
<polygon points="667.6,261.5 683.6,270.1 683.2,270.7" fill="#ff2800" />
<polygon points="667.6,261.5 706.2,284.0 705.5,285.2" fill="#ff4d00" />
<polygon points="667.6,261.5 695.4,277.7 694.9,278.5" fill="#ff3500" />
<polygon points="667.6,261.5 683.8,270.9 683.5,271.4" fill="#ff2500" />
<polygon points="667.6,261.5 705.3,284.8 704.6,285.9" fill="#ff4b00" />
<polygon points="667.6,261.5 694.7,278.3 694.2,279.1" fill="#ff3900" />
<polygon points="667.6,261.5 683.4,271.3 683.1,271.8" fill="#ff2600" />
<polygon points="667.6,261.5 703.6,285.1 703.1,285.8" fill="#ff4700" />
<polygon points="667.6,261.5 693.5,278.5 693.1,279.0" fill="#ff3500" />
<polygon points="667.6,261.5 682.7,271.4 682.5,271.7" fill="#ff2700" />
<polygon points="667.6,261.5 706.8,288.1 706.1,289.1" fill="#ff4b00" />
<polygon points="667.6,261.5 695.8,280.7 695.3,281.4" fill="#ff3700" />
<polygon points="667.6,261.5 684.1,272.7 683.8,273.1" fill="#ff2700" />
<polygon points="667.6,261.5 704.9,288.0 704.2,289.0" fill="#ff4d00" />
<polygon points="667.6,261.5 694.5,280.6 694.0,281.3" fill="#ff3600" />
<polygon points="667.6,261.5 683.3,272.6 683.0,273.0" fill="#ff2700" />
<polygon points="667.6,261.5 698.9,284.7 698.4,285.4" fill="#ff4c00" />
<polygon points="667.6,261.5 690.1,278.2 689.8,278.7" fill="#ff3600" />
<polygon points="667.6,261.5 680.7,271.3 680.5,271.5" fill="#ff2600" />
<polygon points="667.6,261.5 700.6,286.9 699.9,287.7" fill="#ff4900" />
<polygon points="667.6,261.5 691.3,279.8 690.9,280.4" fill="#ff3900" />
<polygon points="667.6,261.5 681.4,272.2 681.2,272.5" fill="#ff2500" />
<polygon points="667.6,261.5 700.9,288.2 700.2,289.1" fill="#ff4a00" />
<polygon points="667.6,261.5 691.6,280.8 691.1,281.4" fill="#ff3700" />
<polygon points="667.6,261.5 681.6,272.7 681.3,273.1" fill="#ff2500" />
<polygon points="667.6,261.5 692.9,282.7 692.1,283.7" fill="#ff5000" />
<polygon points="667.6,261.5 685.8,276.8 685.2,277.5" fill="#ff3800" />
<polygon points="667.6,261.5 678.2,270.4 677.9,270.8" fill="#ff2700" />
<polygon points="667.6,261.5 698.0,288.9 697.1,289.8" fill="#ff4900" />
<polygon points="667.6,261.5 689.5,281.2 688.9,281.9" fill="#ff3d00" />
<polygon points="667.6,261.5 680.4,273.0 680.0,273.4" fill="#ff2500" />
<polygon points="667.6,261.5 694.9,287.4 694.1,288.2" fill="#ff4e00" />
<polygon points="667.6,261.5 687.3,280.1 686.7,280.7" fill="#ff3400" />
<polygon points="667.6,261.5 679.1,272.4 678.7,272.7" fill="#ff2600" />
<polygon points="667.6,261.5 696.9,290.8 695.8,292.0" fill="#ff4e00" />
<polygon points="667.6,261.5 688.7,282.6 687.9,283.4" fill="#ff3c00" />
<polygon points="667.6,261.5 679.9,273.8 679.4,274.3" fill="#ff2500" />
<polygon points="667.6,261.5 698.1,294.2 696.8,295.4" fill="#ff4700" />
<polygon points="667.6,261.5 689.5,285.0 688.6,285.9" fill="#ff3e00" />
<polygon points="667.6,261.5 680.4,275.2 679.9,275.7" fill="#ff2500" />
<polygon points="667.6,261.5 693.4,291.1 692.7,291.7" fill="#ff4800" />
<polygon points="667.6,261.5 686.2,282.8 685.7,283.2" fill="#ff3c00" />
<polygon points="667.6,261.5 678.4,274.0 678.1,274.2" fill="#ff2700" />
<polygon points="667.6,261.5 687.0,284.6 686.4,285.1" fill="#ff4900" />
<polygon points="667.6,261.5 681.6,278.1 681.1,278.5" fill="#ff3c00" />
<polygon points="667.6,261.5 675.7,271.2 675.5,271.4" fill="#ff2800" />
<polygon points="667.6,261.5 689.6,288.9 689.0,289.4" fill="#ff4900" />
<polygon points="667.6,261.5 683.5,281.2 683.0,281.6" fill="#ff3400" />
<polygon points="667.6,261.5 676.9,273.0 676.6,273.2" fill="#ff2700" />
<polygon points="667.6,261.5 686.6,285.9 685.9,286.4" fill="#ff4b00" />
<polygon points="667.6,261.5 681.3,279.1 680.8,279.4" fill="#ff3900" />
<polygon points="667.6,261.5 675.6,271.8 675.3,272.0" fill="#ff2500" />
<polygon points="667.6,261.5 692.4,294.9 691.1,295.8" fill="#ff4700" />
<polygon points="667.6,261.5 685.4,285.5 684.5,286.2" fill="#ff3400" />
<polygon points="667.6,261.5 678.0,275.5 677.5,275.9" fill="#ff2700" />
<polygon points="667.6,261.5 688.1,291.3 687.2,291.9" fill="#ff4000" />
<polygon points="667.6,261.5 682.4,282.9 681.7,283.4" fill="#ff3e00" />
<polygon points="667.6,261.5 676.2,274.0 675.8,274.3" fill="#ff2600" />
<polygon points="667.6,261.5 686.0,289.8 685.1,290.3" fill="#ff4b00" />
<polygon points="667.6,261.5 680.9,281.8 680.2,282.2" fill="#ff3700" />
<polygon points="667.6,261.5 675.3,273.4 675.0,273.6" fill="#ff2600" />
<polygon points="667.6,261.5 688.2,295.0 686.9,295.8" fill="#ff4400" />
<polygon points="667.6,261.5 682.4,285.6 681.5,286.2" fill="#ff3800" />
<polygon points="667.6,261.5 676.2,275.6 675.7,275.9" fill="#ff2600" />
<polygon points="667.6,261.5 685.2,292.5 684.2,293.0" fill="#ff4400" />
<polygon points="667.6,261.5 680.3,283.8 679.6,284.2" fill="#ff3b00" />
<polygon points="667.6,261.5 675.0,274.5 674.6,274.7" fill="#ff2800" />
<polygon points="667.6,261.5 686.2,296.3 684.8,297.0" fill="#ff4f00" />
<polygon points="667.6,261.5 681.0,286.5 680.0,287.0" fill="#ff3700" />
<polygon points="667.6,261.5 675.4,276.1 674.8,276.4" fill="#ff2600" />
<polygon points="667.6,261.5 682.6,292.2 681.9,292.5" fill="#ff4f00" />
<polygon points="667.6,261.5 678.4,283.6 677.9,283.8" fill="#ff3c00" />
<polygon points="667.6,261.5 673.9,274.4 673.6,274.5" fill="#ff2500" />
<polygon points="667.6,261.5 684.6,297.8 683.7,298.2" fill="#ff4b00" />
<polygon points="667.6,261.5 679.8,287.6 679.2,287.9" fill="#ff3c00" />
<polygon points="667.6,261.5 674.7,276.7 674.4,276.9" fill="#ff2700" />
<polygon points="667.6,261.5 682.3,294.7 681.0,295.2" fill="#ff4400" />
<polygon points="667.6,261.5 678.2,285.4 677.2,285.8" fill="#ff3600" />
<polygon points="667.6,261.5 673.8,275.4 673.2,275.7" fill="#ff2500" />
<polygon points="667.6,261.5 679.8,291.9 679.2,292.2" fill="#ff4200" />
<polygon points="667.6,261.5 676.4,283.4 675.9,283.6" fill="#ff3a00" />
<polygon points="667.6,261.5 672.7,274.3 672.5,274.4" fill="#ff2500" />
<polygon points="667.6,261.5 680.8,296.1 679.9,296.4" fill="#ff4b00" />
<polygon points="667.6,261.5 677.1,286.4 676.5,286.6" fill="#ff3700" />
<polygon points="667.6,261.5 673.1,276.0 672.8,276.2" fill="#ff2500" />
<polygon points="667.6,261.5 678.9,293.2 678.1,293.4" fill="#ff4400" />
<polygon points="667.6,261.5 675.8,284.3 675.2,284.5" fill="#ff3500" />
<polygon points="667.6,261.5 672.4,274.8 672.0,274.9" fill="#ff2500" />
<polygon points="667.6,261.5 680.7,300.6 679.8,300.9" fill="#ff4b00" />
<polygon points="667.6,261.5 677.0,289.6 676.4,289.8" fill="#ff3600" />
<polygon points="667.6,261.5 673.1,277.9 672.7,278.0" fill="#ff2800" />
<polygon points="667.6,261.5 675.2,285.5 674.5,285.6" fill="#ff4100" />
<polygon points="667.6,261.5 673.0,278.7 672.6,278.9" fill="#ff3d00" />
<polygon points="667.6,261.5 670.8,271.6 670.5,271.6" fill="#ff2600" />
<rect x="642.1" y="208.5" width="1.6" height="1.6" fill="#ff7800"/>
<rect x="645.6" y="211.5" width="1.6" height="1.6" fill="#ff7800"/>
<rect x="695.6" y="221.5" width="1.6" height="1.6" fill="#ff7800"/>
<rect x="705.6" y="225.5" width="1.6" height="1.6" fill="#ff7800"/>
<rect x="729.6" y="243.5" width="1.6" height="1.6" fill="#ff7800"/>
<rect x="663.6" y="207.5" width="1.6" height="1.6" fill="#ff7800"/>
<rect x="679.6" y="209.5" width="1.6" height="1.6" fill="#ff7800"/>
<polygon points="669.6,255.5 676.6,253.5 684.6,254.5 686.6,259.5 693.1,264.5 691.6,273.5 686.1,282.5 686.6,288.5 684.6,293.5 678.6,299.5 673.6,293.5 667.6,288.5 659.2,284.0 661.6,277.5 663.6,274.1 666.6,266.5" fill="#00007a"/>
<rect x="668.8" y="254.5" width="3.0" height="3.0" fill="#00007a"/>
<rect x="669.6" y="254.9" width="2.0" height="2.0" fill="#00007a"/>
<rect x="674.0" y="252.3" width="1.5" height="1.5" fill="#00007a"/>
<rect x="675.6" y="251.3" width="3.0" height="3.0" fill="#00007a"/>
<rect x="677.5" y="251.2" width="3.0" height="3.0" fill="#00007a"/>
<rect x="681.0" y="254.3" width="1.5" height="1.5" fill="#00007a"/>
<rect x="679.8" y="253.8" width="2.0" height="2.0" fill="#00007a"/>
<rect x="683.1" y="253.6" width="2.0" height="2.0" fill="#00007a"/>
<rect x="683.1" y="254.4" width="2.0" height="2.0" fill="#00007a"/>
<rect x="683.0" y="255.0" width="2.0" height="2.0" fill="#00007a"/>
<rect x="685.2" y="255.2" width="1.5" height="1.5" fill="#00007a"/>
<rect x="684.5" y="257.8" width="2.0" height="2.0" fill="#00007a"/>
<rect x="686.3" y="259.0" width="2.0" height="2.0" fill="#ff1800"/>
<rect x="685.3" y="258.0" width="3.0" height="3.0" fill="#ff1800"/>
<rect x="686.9" y="260.6" width="1.5" height="1.5" fill="#ff1800"/>
<rect x="690.2" y="260.3" width="3.0" height="3.0" fill="#00007a"/>
<rect x="691.6" y="261.8" width="3.0" height="3.0" fill="#ff1800"/>
<rect x="691.1" y="264.4" width="2.0" height="2.0" fill="#00007a"/>
<rect x="692.0" y="263.9" width="2.0" height="2.0" fill="#ff1800"/>
<rect x="691.3" y="265.6" width="3.0" height="3.0" fill="#00007a"/>
<rect x="690.0" y="267.2" width="3.0" height="3.0" fill="#00007a"/>
<rect x="692.0" y="270.3" width="1.5" height="1.5" fill="#00007a"/>
<rect x="690.3" y="272.5" width="3.0" height="3.0" fill="#00007a"/>
<rect x="689.3" y="273.3" width="1.5" height="1.5" fill="#00007a"/>
<rect x="688.8" y="273.8" width="3.0" height="3.0" fill="#00007a"/>
<rect x="687.4" y="274.8" width="3.0" height="3.0" fill="#00007a"/>
<rect x="688.3" y="277.0" width="2.0" height="2.0" fill="#00007a"/>
<rect x="686.0" y="279.6" width="2.0" height="2.0" fill="#00007a"/>
<rect x="684.1" y="283.4" width="2.0" height="2.0" fill="#00007a"/>
<rect x="686.1" y="285.6" width="2.0" height="2.0" fill="#00007a"/>
<rect x="685.5" y="290.2" width="1.5" height="1.5" fill="#ff1800"/>
<rect x="685.1" y="291.9" width="2.0" height="2.0" fill="#00007a"/>
<rect x="682.0" y="291.7" width="3.0" height="3.0" fill="#ff1800"/>
<rect x="683.2" y="293.2" width="3.0" height="3.0" fill="#ff1800"/>
<rect x="680.1" y="297.0" width="3.0" height="3.0" fill="#ff1800"/>
<rect x="676.5" y="297.8" width="2.0" height="2.0" fill="#00007a"/>
<rect x="675.7" y="294.1" width="3.0" height="3.0" fill="#00007a"/>
<rect x="672.0" y="291.4" width="3.0" height="3.0" fill="#ff1800"/>
<rect x="672.0" y="290.1" width="3.0" height="3.0" fill="#ff1800"/>
<rect x="666.2" y="288.2" width="1.5" height="1.5" fill="#00007a"/>
<rect x="661.8" y="285.5" width="2.0" height="2.0" fill="#00007a"/>
<rect x="659.7" y="283.5" width="2.0" height="2.0" fill="#00007a"/>
<rect x="658.1" y="284.1" width="1.5" height="1.5" fill="#00007a"/>
<rect x="660.1" y="281.2" width="1.5" height="1.5" fill="#ff1800"/>
<rect x="659.4" y="279.0" width="3.0" height="3.0" fill="#00007a"/>
<rect x="659.6" y="278.9" width="1.5" height="1.5" fill="#00007a"/>
<rect x="660.0" y="278.8" width="1.5" height="1.5" fill="#ff1800"/>
<rect x="661.7" y="276.5" width="2.0" height="2.0" fill="#00007a"/>
<rect x="661.7" y="272.6" width="1.5" height="1.5" fill="#00007a"/>
<rect x="662.0" y="271.0" width="3.0" height="3.0" fill="#00007a"/>
<rect x="666.0" y="264.5" width="2.0" height="2.0" fill="#00007a"/>
<rect x="665.6" y="264.5" width="2.0" height="2.0" fill="#ff1800"/>
<rect x="666.6" y="259.2" width="3.0" height="3.0" fill="#00007a"/>
<rect x="666.1" y="257.8" width="3.0" height="3.0" fill="#00007a"/>
<polygon points="667.6,261.5 698.0,265.8 697.8,267.2" fill="#00007a" />
<polygon points="667.6,261.5 693.4,269.4 693.1,270.1" fill="#00007a" />
<polygon points="667.6,261.5 697.4,274.8 697.0,275.6" fill="#00007a" />
<polygon points="667.6,261.5 688.8,275.3 688.1,276.3" fill="#00007a" />
<polygon points="667.6,261.5 687.9,282.5 687.0,283.3" fill="#00007a" />
<polygon points="667.6,261.5 682.2,284.8 681.5,285.2" fill="#00007a" />
<polygon points="667.6,261.5 679.7,288.7 678.5,289.2" fill="#00007a" />
<polygon points="667.6,261.5 673.0,291.9 671.9,292.1" fill="#00007a" />
<polygon points="667.6,261.5 665.1,290.3 664.1,290.2" fill="#00007a" />
<rect x="684.7" y="281.9" width="2.5" height="1.0" fill="#ff1800"/>
<rect x="667.2" y="282.0" width="1.5" height="1.5" fill="#ff1800"/>
<rect x="661.0" y="281.7" width="2.5" height="1.5" fill="#ff1800"/>
<rect x="685.8" y="276.6" width="1.5" height="1.0" fill="#ff1800"/>
<rect x="667.6" y="275.4" width="1.0" height="1.0" fill="#ff1800"/>
<rect x="679.8" y="282.8" width="1.0" height="1.5" fill="#ff1800"/>
<rect x="668.7" y="271.9" width="1.5" height="1.0" fill="#ff1800"/>
<rect x="677.6" y="286.0" width="1.5" height="2.0" fill="#ff1800"/>
<rect x="679.6" y="267.1" width="1.5" height="1.0" fill="#ff1800"/>
<rect x="675.7" y="285.7" width="1.5" height="1.0" fill="#ff1800"/>
<rect x="670.6" y="275.4" width="1.5" height="1.5" fill="#ff1800"/>
<rect x="667.6" y="278.0" width="1.0" height="1.0" fill="#ff1800"/>
<rect x="662.9" y="280.4" width="2.5" height="1.5" fill="#ff1800"/>
<rect x="674.1" y="283.1" width="1.5" height="1.0" fill="#ff1800"/>
<rect x="688.2" y="269.5" width="1.5" height="2.0" fill="#ff1800"/>
<rect x="676.3" y="280.0" width="1.0" height="1.5" fill="#ff1800"/>
<rect x="682.2" y="277.1" width="1.5" height="2.0" fill="#ff1800"/>
<rect x="666.9" y="285.5" width="1.0" height="1.5" fill="#ff1800"/>
<rect x="671.9" y="267.3" width="2.5" height="2.0" fill="#ff1800"/>
<rect x="673.4" y="274.3" width="1.5" height="1.5" fill="#ff1800"/>
<rect x="659.2" y="284.7" width="2.5" height="1.0" fill="#ff1800"/>
<rect x="669.2" y="282.0" width="1.5" height="2.0" fill="#ff1800"/>
<rect x="680.2" y="265.3" width="2.5" height="1.0" fill="#ff1800"/>
<rect x="661.4" y="280.2" width="2.5" height="1.0" fill="#ff1800"/>
<rect x="668.1" y="276.4" width="2.5" height="1.5" fill="#ff1800"/>
<rect x="679.0" y="274.1" width="1.5" height="1.5" fill="#ff1800"/>
<polyline fill="none" stroke="#ff1800" stroke-width="1.60" stroke-linejoin="round" stroke-linecap="butt" points="664.6,278.5 672.6,287.5" />
<polyline fill="none" stroke="#ff1800" stroke-width="1.40" stroke-linejoin="round" stroke-linecap="butt" points="660.6,282.5 665.6,288.5" />
<polyline fill="none" stroke="#ff1800" stroke-width="1.30" stroke-linejoin="round" stroke-linecap="butt" points="679.6,275.5 687.6,280.5" />
<polygon points="665.6,286.5 679.6,294.5 681.6,303.5 685.6,313.0 692.2,325.6 690.3,326.2 682.6,314.5 673.6,299.5" fill="#00007a"/>
<rect x="675.3" y="301.8" width="1.6" height="2" fill="#ff1800"/>
<rect x="676.7" y="303.5" width="1.6" height="2" fill="#ff1800"/>
<rect x="676.2" y="305.2" width="1.6" height="2" fill="#ff1800"/>
<rect x="678.8" y="310.2" width="1.6" height="2" fill="#ff1800"/>
<rect x="681.7" y="313.5" width="1.6" height="2" fill="#ff1800"/>
<rect x="683.2" y="315.0" width="1.6" height="2" fill="#ff1800"/>
<rect x="686.1" y="320.8" width="1.6" height="2" fill="#ff1800"/>
<rect x="687.8" y="323.7" width="1.6" height="2" fill="#ff1800"/>
<rect x="679.9" y="302.5" width="1.6" height="2" fill="#ff1800"/>
<rect x="682.4" y="307.2" width="1.6" height="2" fill="#ff1800"/>
<rect x="685.6" y="312.0" width="1.6" height="2" fill="#ff1800"/>
<rect x="688.3" y="318.3" width="1.6" height="2" fill="#ff1800"/>
<rect x="689.5" y="321.5" width="1.6" height="2" fill="#ff1800"/>
<polygon points="667.6,261.5 629.6,262.7 629.6,261.2" fill="#00008c" />
<polygon points="667.6,261.5 627.7,264.2 627.6,262.6" fill="#00008c" />
<polygon points="667.6,261.5 630.8,265.3 630.7,263.8" fill="#00008c" />
<polygon points="667.6,261.5 627.0,267.2 626.8,265.5" fill="#00008c" />
<polygon points="667.6,261.5 629.2,268.3 629.0,266.7" fill="#00008c" />
<polygon points="667.6,261.5 632.4,269.0 632.1,267.6" fill="#00008c" />
<polygon points="667.6,261.5 628.8,271.2 628.4,269.7" fill="#00008c" />
<polygon points="667.6,261.5 631.1,272.1 630.7,270.6" fill="#00008c" />
<polygon points="667.6,261.5 633.4,272.7 633.0,271.4" fill="#00008c" />
<polygon points="667.6,261.5 631.0,275.0 630.5,273.5" fill="#00008c" />
<polygon points="667.6,261.5 633.4,275.5 632.8,274.2" fill="#00008c" />
<polygon points="667.6,261.5 631.2,278.0 630.5,276.5" fill="#00008c" />
<polygon points="667.6,261.5 633.6,278.4 632.9,277.0" fill="#00008c" />
<polygon points="667.6,261.5 631.6,281.0 630.8,279.6" fill="#00008c" />
<polygon points="667.6,261.5 633.1,281.8 632.3,280.4" fill="#00008c" />
<rect x="654.1" y="263.1" width="7" height="2.6" fill="#ff1800"/>
<rect x="633.8" y="263.5" width="1.5" height="1" fill="#ff1800"/>
<rect x="651.1" y="266.4" width="1.5" height="1" fill="#ff1800"/>
<rect x="649.2" y="269.2" width="1.5" height="1" fill="#ff1800"/>
<rect x="647.2" y="266.0" width="1.5" height="1" fill="#ff1800"/>
<rect x="636.3" y="265.9" width="1.5" height="1" fill="#ff1800"/>
<rect x="641.5" y="269.4" width="1.5" height="1" fill="#ff1800"/>
<rect x="639.8" y="266.9" width="1.5" height="1" fill="#ff1800"/>
<polyline fill="none" stroke="#ff1800" stroke-width="1.10" stroke-linejoin="round" stroke-linecap="butt" points="663.6,259.5 630.1,243.5" stroke-dasharray="1.3 1.6"/>
<polyline fill="none" stroke="#00007a" stroke-width="1.10" stroke-linejoin="round" stroke-linecap="butt" points="664.6,266.5 652.1,283.0" stroke-dasharray="1.3 1.8"/>
<circle cx="667.6" cy="261.5" r="5" fill="#fff" shape-rendering="auto"/>
<polyline fill="none" stroke="#ff1800" stroke-width="1.30" stroke-linejoin="round" stroke-linecap="round" points="725.5,236.0 731.0,233.6" />
<polyline fill="none" stroke="#00007a" stroke-width="1.40" stroke-linejoin="round" stroke-linecap="round" points="631.0,313.0 632.5,311.5" />
<polyline fill="none" stroke="#ff1800" stroke-width="1.40" stroke-linejoin="round" stroke-linecap="round" points="632.5,311.5 634.5,309.3" />
<rect x="702.2" y="326.4" width="2" height="2" fill="#ff1800"/><rect x="703.2" y="327.4" width="1.2" height="1.2" fill="#00007a"/>
<rect x="696.2" y="332.6" width="2" height="2" fill="#ff1800"/><rect x="697.4" y="333.2" width="1.3" height="1.3" fill="#00007a"/>
<path d="M505.0 272.6h1.9v2.4h-1.9zM505.1 273.3h2.4v3.1h-2.4zM504.9 274.5h2.3v2.4h-2.3zM503.9 275.5h3.7v2.4h-3.7zM504.2 276.4h2.1v2.9h-2.1zM503.1 277.7h3.7v1.9h-3.7zM503.8 278.7h2.6v3.1h-2.6zM503.2 280.4h3.6v1.5h-3.6zM503.5 281.3h3.1v1.9h-3.1zM503.9 281.8h2.7v3.1h-2.7zM503.2 282.7h2.2v2.5h-2.2zM503.6 284.0h3.3v1.5h-3.3zM503.5 285.2h3.4v2.8h-3.4zM504.3 285.7h2.2v2.8h-2.2zM503.8 287.7h3.4v1.5h-3.4zM504.3 288.6h1.8v2.0h-1.8zM503.9 289.0h3.1v2.7h-3.1zM503.9 289.9h3.1v2.4h-3.1zM504.9 290.9h2.0v2.7h-2.0zM505.2 291.8h1.9v2.7h-1.9zM504.7 293.3h3.5v2.1h-3.5zM505.1 294.7h2.0v2.0h-2.0zM504.6 294.6h3.8v2.9h-3.8zM505.5 296.7h2.6v2.0h-2.6zM506.0 297.4h2.2v1.9h-2.2zM505.0 298.3h3.3v2.7h-3.3zM505.5 299.7h2.7v1.6h-2.7zM506.6 300.9h2.9v1.5h-2.9zM507.0 300.8h2.0v2.8h-2.0zM506.8 301.6h3.6v2.9h-3.6zM508.4 302.0h2.7v2.8h-2.7zM509.2 303.4h2.2v2.0h-2.2zM509.3 303.8h3.6v3.1h-3.6zM511.0 304.7h3.6v2.6h-3.6z" fill="#00007a" />
<path d="M507.4 271.7h3.1v2.9h-3.1zM507.3 273.2h3.3v3.1h-3.3zM507.0 273.6h2.9v3.1h-2.9zM506.9 275.8h3.0v2.2h-3.0zM506.3 277.2h3.8v1.6h-3.8zM506.9 277.0h2.4v2.9h-2.4zM505.4 278.8h3.8v1.9h-3.8zM506.7 279.5h2.8v3.3h-2.8zM506.6 280.5h2.1v2.6h-2.1zM506.4 282.2h2.1v2.4h-2.1zM505.1 282.1h3.5v3.1h-3.5zM505.7 283.7h3.1v2.7h-3.1zM506.0 284.4h3.9v2.2h-3.9zM506.2 285.7h2.1v2.7h-2.1zM506.2 286.7h3.2v3.0h-3.2zM506.2 287.8h3.3v2.7h-3.3zM506.2 289.0h3.1v1.9h-3.1zM506.5 290.3h3.7v1.9h-3.7zM506.7 289.9h3.3v3.3h-3.3zM506.6 291.3h3.0v2.8h-3.0zM506.4 292.1h3.8v3.3h-3.8zM507.5 294.0h2.6v2.1h-2.6zM507.3 294.6h2.7v1.9h-2.7zM507.3 295.4h3.4v2.9h-3.4zM507.5 296.1h4.0v3.2h-4.0zM507.4 297.1h3.5v2.9h-3.5zM508.9 298.2h2.1v2.9h-2.1zM508.0 299.5h3.8v3.0h-3.8zM509.2 301.1h2.6v2.0h-2.6zM509.5 301.6h3.7v1.6h-3.7zM511.0 301.9h2.3v3.3h-2.3zM511.1 302.9h3.2v2.9h-3.2zM512.0 304.0h3.6v1.6h-3.6zM513.8 303.9h3.1v2.2h-3.1z" fill="#ff1800" />
<path d="M523.6 301.5h3.1v1.7h-3.1zM525.6 302.4h1.9v1.5h-1.9zM525.6 302.9h2.3v1.5h-2.3zM527.2 303.1h2.0v1.5h-2.0zM527.3 303.4h3.4v2.9h-3.4zM528.2 304.0h2.9v2.4h-2.9zM529.0 303.8h3.4v2.5h-3.4zM529.5 304.9h3.5v2.3h-3.5zM529.6 306.3h3.5v1.8h-3.5zM530.4 307.7h3.5v1.5h-3.5zM531.0 307.8h2.8v2.4h-2.8zM531.5 309.2h1.7v1.5h-1.7zM530.9 309.8h3.1v2.2h-3.1zM532.0 311.0h2.7v2.5h-2.7zM530.7 312.2h3.4v2.9h-3.4zM530.8 312.8h2.1v2.0h-2.1zM529.5 313.6h3.6v2.8h-3.6zM528.9 315.4h2.2v1.6h-2.2zM528.3 315.8h1.8v1.6h-1.8z" fill="#00007a" />
<path d="M525.4 300.0h3.2v3.1h-3.2zM526.4 300.8h3.6v2.8h-3.6zM528.6 301.2h2.1v2.4h-2.1zM529.1 302.0h2.5v1.7h-2.5zM530.3 303.1h2.6v2.0h-2.6zM530.4 302.8h2.7v2.5h-2.7zM530.9 303.6h3.5v2.2h-3.5zM531.1 304.2h3.7v3.2h-3.7zM531.9 306.2h3.9v1.6h-3.9zM532.0 306.4h3.5v3.1h-3.5zM532.7 307.6h2.5v1.6h-2.5zM533.3 308.5h2.7v2.1h-2.7zM533.9 309.1h2.2v2.6h-2.2zM534.3 309.8h3.0v3.2h-3.0zM533.3 311.4h2.1v1.9h-2.1zM532.2 312.2h2.5v2.2h-2.5zM531.7 313.7h3.0v1.9h-3.0zM530.0 313.9h3.9v2.2h-3.9zM530.6 314.6h2.1v2.5h-2.1z" fill="#ff1800" />
<polyline fill="none" stroke="#00007a" stroke-width="1.00" stroke-linejoin="round" stroke-linecap="butt" points="531.3,316.0 522.7,321.6" stroke-dasharray="2 1.5"/>
<path d="M507.0 328.8h1.8v2.1h-1.8zM507.6 328.8h3.2v1.5h-3.2zM509.3 328.2h1.8v1.7h-1.8zM509.2 328.5h3.0v2.1h-3.0zM510.9 328.4h2.9v2.7h-2.9zM511.4 329.8h3.0v1.5h-3.0zM512.0 330.1h2.9v1.5h-2.9zM512.3 331.0h3.4v1.8h-3.4zM514.1 330.5h2.9v2.4h-2.9zM514.9 332.0h2.5v2.5h-2.5zM516.3 331.8h2.2v3.0h-2.2zM516.4 332.9h2.2v1.6h-2.2zM517.5 333.6h1.9v1.9h-1.9zM518.2 334.6h2.3v2.8h-2.3zM518.5 335.2h2.0v2.9h-2.0zM519.1 336.6h2.2v2.7h-2.2zM519.1 337.5h3.1v1.5h-3.1zM520.4 337.8h3.0v2.3h-3.0zM520.9 339.3h3.3v1.5h-3.3zM521.5 339.4h2.6v2.2h-2.6z" fill="#00007a" />
<path d="M508.1 327.1h2.7v1.7h-2.7zM508.5 327.2h3.6v1.5h-3.6zM510.1 327.0h1.9v2.0h-1.9zM511.0 326.6h3.2v1.7h-3.2zM513.0 326.7h1.9v2.6h-1.9zM513.8 327.9h1.8v2.0h-1.8zM513.8 328.0h3.4v1.5h-3.4zM515.0 328.8h1.9v1.5h-1.9zM515.5 329.1h2.9v2.5h-2.9zM516.7 329.9h2.6v2.2h-2.6zM517.3 330.7h2.6v2.2h-2.6zM518.8 331.9h2.1v1.9h-2.1zM519.1 332.0h2.9v2.0h-2.9zM518.7 333.0h3.2v2.5h-3.2zM520.8 333.9h2.0v1.8h-2.0zM521.3 334.8h2.3v2.6h-2.3zM521.8 336.1h2.5v1.8h-2.5zM522.4 335.8h1.8v3.0h-1.8zM522.8 337.1h1.9v2.6h-1.9zM523.2 338.4h2.4v2.1h-2.4z" fill="#ff1800" />
<polyline fill="none" stroke="#00007a" stroke-width="1.00" stroke-linejoin="round" stroke-linecap="round" points="506.0,328.6 509.0,328.2" />
<path d="M526.8 336.6h3.5v3.3h-3.5zM528.4 337.2h4.0v2.8h-4.0zM530.1 337.7h3.1v2.3h-3.1zM530.5 339.0h3.7v2.3h-3.7zM530.6 338.9h3.6v3.1h-3.6zM531.3 340.3h3.5v2.2h-3.5zM532.3 341.1h2.7v2.8h-2.7zM531.6 341.7h3.9v2.9h-3.9zM533.0 342.6h3.1v2.9h-3.1zM532.7 344.0h4.0v2.8h-4.0zM534.5 344.3h2.3v3.2h-2.3zM534.0 346.6h2.7v2.0h-2.7z" fill="#00007a" />
<path d="M529.0 336.0h4.0v2.3h-4.0zM531.5 336.5h2.6v2.2h-2.6zM532.9 337.6h3.1v2.4h-3.1zM532.9 337.3h3.1v3.5h-3.1zM534.3 338.9h2.5v2.0h-2.5zM533.5 339.5h4.1v2.5h-4.1zM534.5 340.5h3.6v3.7h-3.6zM534.2 341.2h4.1v2.6h-4.1zM535.4 342.4h3.0v2.0h-3.0zM536.0 343.1h2.7v3.3h-2.7zM536.2 344.2h4.0v3.0h-4.0zM537.1 345.4h3.3v1.9h-3.3z" fill="#ff1800" />
<path d="M717.0 343.2h3.1v1.9h-3.1zM715.9 342.2h2.4v1.7h-2.4zM715.8 341.7h1.5v2.0h-1.5zM714.6 341.4h2.3v1.5h-2.3zM713.2 339.0h3.4v2.7h-3.4zM713.0 340.0h2.3v1.7h-2.3zM711.2 339.3h2.8v2.5h-2.8zM710.2 339.0h2.0v2.5h-2.0zM709.9 340.9h2.1v1.5h-2.1zM710.0 342.2h1.9v1.5h-1.9zM709.7 342.4h2.8v2.6h-2.8zM710.0 344.2h2.0v1.5h-2.0zM709.9 345.2h2.3v1.5h-2.3zM709.8 345.7h2.3v2.6h-2.3zM709.3 347.4h2.8v2.0h-2.8zM709.5 348.0h2.0v1.5h-2.0zM708.9 349.9h3.2v1.5h-3.2zM709.0 350.0h2.5v1.5h-2.5zM708.7 350.7h2.7v2.6h-2.7zM708.8 352.7h2.4v1.5h-2.4zM708.7 353.6h2.9v1.5h-2.9zM708.2 354.3h2.5v2.3h-2.5zM708.2 355.2h2.6v1.8h-2.6zM708.2 356.4h3.0v2.4h-3.0zM708.4 357.6h2.3v2.1h-2.3zM708.4 357.7h3.3v2.4h-3.3zM709.6 358.8h1.8v2.5h-1.8zM709.7 360.4h1.8v2.5h-1.8z" fill="#00007a" />
<path d="M715.2 341.9h2.6v2.8h-2.6zM715.2 341.3h1.7v2.2h-1.7zM713.0 340.4h3.6v2.3h-3.6zM712.8 338.8h3.3v2.5h-3.3zM712.5 339.1h1.6v1.7h-1.6zM710.7 339.2h2.1v1.5h-2.1zM710.3 338.9h2.1v1.8h-2.1zM708.4 337.8h2.2v2.4h-2.2zM707.9 339.8h3.5v1.5h-3.5zM708.2 340.6h3.1v2.3h-3.1zM708.1 341.5h2.9v1.5h-2.9zM708.1 342.6h1.9v1.8h-1.9zM707.4 344.1h2.5v1.8h-2.5zM707.7 344.8h2.9v1.5h-2.9zM707.8 346.1h2.2v2.6h-2.2zM707.2 347.2h3.3v2.2h-3.3zM707.2 347.5h3.3v3.0h-3.3zM707.3 348.9h2.5v2.6h-2.5zM706.6 350.6h2.3v1.5h-2.3zM706.2 351.4h3.4v1.5h-3.4zM707.0 352.4h2.6v1.5h-2.6zM706.6 353.1h2.2v2.1h-2.2zM706.1 353.7h3.4v2.3h-3.4zM706.3 355.1h3.3v2.6h-3.3zM707.2 355.1h2.8v3.0h-2.8zM707.5 357.0h2.5v1.5h-2.5zM707.9 358.1h2.0v2.2h-2.0zM707.0 358.8h3.3v2.4h-3.3z" fill="#ff1800" />
<path d="M721.1 349.7h2.9v1.5h-2.9zM722.8 350.0h2.2v1.9h-2.2zM724.0 349.7h2.0v2.8h-2.0zM724.9 350.4h2.5v3.1h-2.5z" fill="#00007a" />
<path d="M720.0 347.3h2.9v1.5h-2.9zM721.2 347.9h3.6v2.2h-3.6zM722.3 349.1h3.1v1.5h-3.1zM723.7 348.8h2.4v2.7h-2.4z" fill="#ff1800" />
<path d="M728.8 353.6h2.0v2.7h-2.0zM728.5 354.8h3.1v1.7h-3.1zM729.9 354.5h3.8v3.1h-3.8zM731.1 354.5h2.4v2.4h-2.4zM732.2 354.7h2.3v2.3h-2.3zM732.0 353.6h3.4v2.6h-3.4zM732.8 353.7h3.3v1.7h-3.3zM732.8 352.3h3.8v1.9h-3.8zM733.1 350.4h2.5v3.0h-2.5zM733.1 349.2h3.7v3.3h-3.7zM733.3 349.2h2.9v2.6h-2.9zM734.6 348.5h2.8v2.5h-2.8zM735.7 348.7h3.7v3.1h-3.7zM736.5 348.8h2.8v2.1h-2.8zM738.0 349.5h3.1v2.3h-3.1z" fill="#00007a" />
<path d="M727.1 351.5h2.7v3.3h-2.7zM728.2 351.6h2.8v2.9h-2.8zM728.9 352.5h3.4v1.9h-3.4zM730.1 352.2h3.9v3.1h-3.9zM731.6 352.7h2.8v2.7h-2.8zM731.5 351.8h3.2v2.1h-3.2zM732.5 350.9h2.3v1.9h-2.3zM731.9 349.3h3.6v3.2h-3.6zM731.4 348.9h3.9v2.7h-3.9zM732.6 347.9h3.2v2.6h-3.2zM731.8 346.7h4.1v2.8h-4.1zM733.6 347.3h3.7v1.7h-3.7zM734.4 346.9h3.6v2.4h-3.6zM735.8 346.5h2.6v3.2h-2.6zM736.4 347.3h3.5v2.2h-3.5z" fill="#ff1800" />
<path d="M736.6 349.3h4.8v3.3h-4.8zM737.4 349.0h3.3v3.1h-3.3zM738.7 348.3h4.4v2.8h-4.4zM739.8 348.3h3.3v3.3h-3.3zM740.5 347.6h2.8v3.6h-2.8zM741.6 347.3h4.1v2.2h-4.1zM742.1 345.8h3.8v3.9h-3.8zM743.2 346.4h3.2v3.5h-3.2zM744.1 347.5h3.2v3.0h-3.2zM744.5 347.5h4.6v2.4h-4.6zM745.5 347.4h4.7v3.6h-4.7zM748.0 347.4h2.9v3.1h-2.9z" fill="#00007a" />
<path d="M736.0 345.8h4.3v3.6h-4.3zM737.3 345.8h3.6v2.5h-3.6zM738.1 345.2h3.7v3.6h-3.7zM739.5 345.7h3.2v2.7h-3.2zM740.8 344.7h3.4v2.6h-3.4zM741.1 343.6h3.8v3.2h-3.8zM741.4 343.6h4.3v4.0h-4.3zM742.8 343.6h4.6v3.5h-4.6zM744.1 343.6h4.2v4.0h-4.2zM744.5 344.0h4.8v2.4h-4.8zM745.9 343.7h4.3v3.5h-4.3zM747.5 344.1h3.1v3.8h-3.1z" fill="#ff1800" />
<polyline fill="none" stroke="#00007a" stroke-width="1.80" stroke-linejoin="round" stroke-linecap="butt" points="733.6,354.0 734.2,357.5" />
<g shape-rendering="geometricPrecision">
<polyline fill="none" stroke="#000" stroke-width="1.30" stroke-linejoin="round" stroke-linecap="round" points="519.9,75.1 515.5,80.7 512.3,84.2 513.3,92.1 512.6,95.9 515.7,98.1 518.6,104.1 522.4,110.2 525.6,111.1 529.6,111.7 532.9,108.2 535.7,109.2 538.2,107.7 541.8,106.7 543.9,103.1 543.7,99.7 549.0,96.8 549.6,93.8 552.1,90.2 555.3,89.9 554.0,86.2 554.7,82.6 553.4,78.2 553.0,75.1"/>
<polyline fill="none" stroke="#000" stroke-width="1.30" stroke-linejoin="round" stroke-linecap="round" points="480.7,179.4 490.2,179.4 492.1,177.5 494.0,173.3 495.9,173.0 504.1,176.8 509.1,181.3 519.3,178.7 530.6,173.7 540.7,167.4 547.1,162.6 548.7,161.9 549.2,154.7 551.5,154.3 551.5,149.0 554.4,147.5 551.5,143.7 548.3,145.9 545.8,141.7 549.0,139.9 549.6,136.6 552.1,134.5 574.8,133.3 575.3,146.2 579.5,145.8 583.3,146.2 584.9,139.2 582.6,137.3 583.9,133.9 587.1,134.1 589.6,131.4 590.9,134.1 594.0,136.3 599.7,136.0 604.1,138.6 607.3,139.2 611.7,137.3 618.0,137.6 624.4,139.4 625.6,142.4 628.8,143.4 632.6,142.4 635.1,140.2 636.4,142.0 640.2,142.4 643.3,140.5 645.2,136.9 647.1,136.3 649.0,137.9 652.2,137.7 656.0,134.1 655.3,132.6 659.1,136.0 664.8,130.7 663.6,129.3 659.8,131.4 659.1,130.3 664.2,127.2 668.6,125.3 671.1,126.6 673.2,125.6 677.0,122.5 675.1,125.6 677.6,127.9 680.8,127.5 682.1,123.7 684.0,123.1 684.6,116.8 692.2,117.0 692.6,120.6 694.7,121.6 697.9,119.9 698.1,122.5 701.4,122.5 702.9,130.8 704.3,133.3 703.8,138.2 699.1,137.9 698.9,136.5 695.8,137.0 698.5,145.5 706.1,143.9 705.7,141.4 707.4,141.0 710.8,145.2 715.6,142.9 713.3,138.1 715.3,137.2 717.1,141.4 727.0,136.6 723.2,129.0 715.6,132.4 708.6,128.8 716.2,125.1 708.4,110.3 720.1,104.6 729.6,123.2 733.9,122.2 734.5,125.5 728.2,128.7 730.1,132.6 740.4,127.6 734.3,116.1 736.4,114.9 740.9,120.5 746.0,116.1 744.2,113.6 741.5,114.9 744.0,111.6 733.3,103.1 739.0,96.3 753.5,107.7 759.2,101.0 757.0,98.8 752.9,101.6 741.5,90.2 744.0,82.0 751.0,79.1 772.5,85.4 774.0,75.1"/>
<polyline fill="none" stroke="#000" stroke-width="1.30" stroke-linejoin="round" stroke-linecap="round" points="668.6,112.4 670.9,117.1"/>
<polyline fill="none" stroke="#000" stroke-width="1.30" stroke-linejoin="round" stroke-linecap="round" points="507.2,85.8 509.0,84.6"/>
<polyline fill="none" stroke="#000" stroke-width="1.30" stroke-linejoin="round" stroke-linecap="round" points="767.6,76.0 769.3,79.5 771.0,76.0"/>
</g>
</g>
<path d="M480.30 74.40H854.75V448.90H480.30ZM480.30 74.40v-14.70M480.30 448.90v14.70M480.30 74.40h-14.70M854.75 74.40h14.70M573.91 74.40v-14.70M573.91 448.90v14.70M480.30 168.03h-14.70M854.75 168.03h14.70M667.52 74.40v-14.70M667.52 448.90v14.70M480.30 261.65h-14.70M854.75 261.65h14.70M761.14 74.40v-14.70M761.14 448.90v14.70M480.30 355.27h-14.70M854.75 355.27h14.70M854.75 74.40v-14.70M854.75 448.90v14.70M480.30 448.90h-14.70M854.75 448.90h14.70" fill="none" stroke="#000" stroke-width="1.7"/>
<path d="M492.00 74.40v-7.20M492.00 448.90v7.20M480.30 86.10h-7.20M854.75 86.10h7.20M503.70 74.40v-7.20M503.70 448.90v7.20M480.30 97.81h-7.20M854.75 97.81h7.20M515.40 74.40v-7.20M515.40 448.90v7.20M480.30 109.51h-7.20M854.75 109.51h7.20M527.11 74.40v-7.20M527.11 448.90v7.20M480.30 121.21h-7.20M854.75 121.21h7.20M538.81 74.40v-7.20M538.81 448.90v7.20M480.30 132.92h-7.20M854.75 132.92h7.20M550.51 74.40v-7.20M550.51 448.90v7.20M480.30 144.62h-7.20M854.75 144.62h7.20M562.21 74.40v-7.20M562.21 448.90v7.20M480.30 156.32h-7.20M854.75 156.32h7.20M585.61 74.40v-7.20M585.61 448.90v7.20M480.30 179.73h-7.20M854.75 179.73h7.20M597.32 74.40v-7.20M597.32 448.90v7.20M480.30 191.43h-7.20M854.75 191.43h7.20M609.02 74.40v-7.20M609.02 448.90v7.20M480.30 203.13h-7.20M854.75 203.13h7.20M620.72 74.40v-7.20M620.72 448.90v7.20M480.30 214.84h-7.20M854.75 214.84h7.20M632.42 74.40v-7.20M632.42 448.90v7.20M480.30 226.54h-7.20M854.75 226.54h7.20M644.12 74.40v-7.20M644.12 448.90v7.20M480.30 238.24h-7.20M854.75 238.24h7.20M655.82 74.40v-7.20M655.82 448.90v7.20M480.30 249.95h-7.20M854.75 249.95h7.20M679.23 74.40v-7.20M679.23 448.90v7.20M480.30 273.35h-7.20M854.75 273.35h7.20M690.93 74.40v-7.20M690.93 448.90v7.20M480.30 285.06h-7.20M854.75 285.06h7.20M702.63 74.40v-7.20M702.63 448.90v7.20M480.30 296.76h-7.20M854.75 296.76h7.20M714.33 74.40v-7.20M714.33 448.90v7.20M480.30 308.46h-7.20M854.75 308.46h7.20M726.03 74.40v-7.20M726.03 448.90v7.20M480.30 320.17h-7.20M854.75 320.17h7.20M737.73 74.40v-7.20M737.73 448.90v7.20M480.30 331.87h-7.20M854.75 331.87h7.20M749.44 74.40v-7.20M749.44 448.90v7.20M480.30 343.57h-7.20M854.75 343.57h7.20M772.84 74.40v-7.20M772.84 448.90v7.20M480.30 366.98h-7.20M854.75 366.98h7.20M784.54 74.40v-7.20M784.54 448.90v7.20M480.30 378.68h-7.20M854.75 378.68h7.20M796.24 74.40v-7.20M796.24 448.90v7.20M480.30 390.38h-7.20M854.75 390.38h7.20M807.94 74.40v-7.20M807.94 448.90v7.20M480.30 402.09h-7.20M854.75 402.09h7.20M819.65 74.40v-7.20M819.65 448.90v7.20M480.30 413.79h-7.20M854.75 413.79h7.20M831.35 74.40v-7.20M831.35 448.90v7.20M480.30 425.49h-7.20M854.75 425.49h7.20M843.05 74.40v-7.20M843.05 448.90v7.20M480.30 437.20h-7.20M854.75 437.20h7.20" fill="none" stroke="#000" stroke-width="1.05"/>
<text transform="translate(480.3 500.0) scale(0.93 1)" text-anchor="middle" font-size="29" font-family="Liberation Sans, sans-serif" font-weight="bold" stroke="#000" stroke-width="0.55" stroke-linejoin="round">−8</text>
<text transform="translate(573.9 500.0) scale(0.93 1)" text-anchor="middle" font-size="29" font-family="Liberation Sans, sans-serif" font-weight="bold" stroke="#000" stroke-width="0.55" stroke-linejoin="round">−4</text>
<text transform="translate(667.5 500.0) scale(0.93 1)" text-anchor="middle" font-size="29" font-family="Liberation Sans, sans-serif" font-weight="bold" stroke="#000" stroke-width="0.55" stroke-linejoin="round">0</text>
<text transform="translate(761.1 500.0) scale(0.93 1)" text-anchor="middle" font-size="29" font-family="Liberation Sans, sans-serif" font-weight="bold" stroke="#000" stroke-width="0.55" stroke-linejoin="round">4</text>
<text transform="translate(854.8 500.0) scale(0.93 1)" text-anchor="middle" font-size="29" font-family="Liberation Sans, sans-serif" font-weight="bold" stroke="#000" stroke-width="0.55" stroke-linejoin="round">8</text>
<polygon points="58.9,509.2 386.7,509.2 396.5,514.5 386.7,519.8 58.9,519.8" fill="#000" stroke="#000" stroke-width="1" stroke-linejoin="miter"/>
<rect x="60.10" y="510.90" width="6.81" height="7.40" fill="#000000"/>
<rect x="69.20" y="510.90" width="6.81" height="7.40" fill="#000000"/>
<rect x="78.31" y="510.90" width="6.81" height="7.40" fill="#000000"/>
<rect x="87.42" y="510.90" width="6.81" height="7.40" fill="#000000"/>
<rect x="96.52" y="510.90" width="6.81" height="7.40" fill="#000000"/>
<rect x="105.63" y="510.90" width="6.81" height="7.40" fill="#000000"/>
<rect x="114.73" y="510.90" width="6.81" height="7.40" fill="#000000"/>
<rect x="123.83" y="510.90" width="6.81" height="7.40" fill="#000000"/>
<rect x="132.94" y="510.90" width="6.81" height="7.40" fill="#000000"/>
<rect x="142.04" y="510.90" width="6.81" height="7.40" fill="#000000"/>
<rect x="151.15" y="510.90" width="6.81" height="7.40" fill="#141414"/>
<rect x="160.25" y="510.90" width="6.81" height="7.40" fill="#1d1d1d"/>
<rect x="169.36" y="510.90" width="6.81" height="7.40" fill="#262626"/>
<rect x="178.47" y="510.90" width="6.81" height="7.40" fill="#2f2f2f"/>
<rect x="187.57" y="510.90" width="6.81" height="7.40" fill="#383838"/>
<rect x="196.68" y="510.90" width="6.81" height="7.40" fill="#414141"/>
<rect x="205.78" y="510.90" width="6.81" height="7.40" fill="#4a4a4a"/>
<rect x="214.88" y="510.90" width="6.81" height="7.40" fill="#535353"/>
<rect x="223.99" y="510.90" width="6.81" height="7.40" fill="#5c5c5c"/>
<rect x="233.09" y="510.90" width="6.81" height="7.40" fill="#656565"/>
<rect x="242.20" y="510.90" width="6.81" height="7.40" fill="#6e6e6e"/>
<rect x="251.31" y="510.90" width="6.81" height="7.40" fill="#777777"/>
<rect x="260.41" y="510.90" width="6.81" height="7.40" fill="#808080"/>
<rect x="269.51" y="510.90" width="6.81" height="7.40" fill="#888888"/>
<rect x="278.62" y="510.90" width="6.81" height="7.40" fill="#919191"/>
<rect x="287.72" y="510.90" width="6.81" height="7.40" fill="#9a9a9a"/>
<rect x="296.83" y="510.90" width="6.81" height="7.40" fill="#a3a3a3"/>
<rect x="305.94" y="510.90" width="6.81" height="7.40" fill="#acacac"/>
<rect x="315.04" y="510.90" width="6.81" height="7.40" fill="#b5b5b5"/>
<rect x="324.14" y="510.90" width="6.81" height="7.40" fill="#bebebe"/>
<rect x="333.25" y="510.90" width="6.81" height="7.40" fill="#c7c7c7"/>
<rect x="342.35" y="510.90" width="6.81" height="7.40" fill="#d0d0d0"/>
<rect x="351.46" y="510.90" width="6.81" height="7.40" fill="#d9d9d9"/>
<rect x="360.56" y="510.90" width="6.81" height="7.40" fill="#e2e2e2"/>
<rect x="369.67" y="510.90" width="6.81" height="7.40" fill="#ebebeb"/>
<rect x="378.77" y="510.90" width="6.81" height="7.40" fill="#f4f4f4"/>
<polygon points="387.7,510.9 393.7,514.5 387.7,518.3" fill="#ffff00"/>
<rect x="57.95" y="519.80" width="1.9" height="14.20" fill="#000"/>
<polygon points="66.9,519.8 69.1,519.8 68.5,527.0 67.6,527.0" fill="#000"/>
<polygon points="76.0,519.8 78.2,519.8 77.6,527.0 76.7,527.0" fill="#000"/>
<polygon points="85.1,519.8 87.3,519.8 86.7,527.0 85.8,527.0" fill="#000"/>
<polygon points="94.2,519.8 96.4,519.8 95.8,527.0 94.9,527.0" fill="#000"/>
<rect x="103.48" y="519.80" width="1.9" height="14.20" fill="#000"/>
<polygon points="112.4,519.8 114.6,519.8 114.0,527.0 113.1,527.0" fill="#000"/>
<polygon points="121.5,519.8 123.7,519.8 123.1,527.0 122.2,527.0" fill="#000"/>
<polygon points="130.6,519.8 132.8,519.8 132.2,527.0 131.3,527.0" fill="#000"/>
<polygon points="139.7,519.8 141.9,519.8 141.3,527.0 140.4,527.0" fill="#000"/>
<rect x="149.00" y="519.80" width="1.9" height="14.20" fill="#000"/>
<polygon points="158.0,519.8 160.2,519.8 159.5,527.0 158.6,527.0" fill="#000"/>
<polygon points="167.1,519.8 169.3,519.8 168.6,527.0 167.7,527.0" fill="#000"/>
<polygon points="176.2,519.8 178.4,519.8 177.7,527.0 176.8,527.0" fill="#000"/>
<polygon points="185.3,519.8 187.5,519.8 186.8,527.0 185.9,527.0" fill="#000"/>
<rect x="194.53" y="519.80" width="1.9" height="14.20" fill="#000"/>
<polygon points="203.5,519.8 205.7,519.8 205.0,527.0 204.1,527.0" fill="#000"/>
<polygon points="212.6,519.8 214.8,519.8 214.1,527.0 213.2,527.0" fill="#000"/>
<polygon points="221.7,519.8 223.9,519.8 223.2,527.0 222.3,527.0" fill="#000"/>
<polygon points="230.8,519.8 233.0,519.8 232.3,527.0 231.4,527.0" fill="#000"/>
<rect x="240.05" y="519.80" width="1.9" height="14.20" fill="#000"/>
<polygon points="249.0,519.8 251.2,519.8 250.6,527.0 249.7,527.0" fill="#000"/>
<polygon points="258.1,519.8 260.3,519.8 259.7,527.0 258.8,527.0" fill="#000"/>
<polygon points="267.2,519.8 269.4,519.8 268.8,527.0 267.9,527.0" fill="#000"/>
<polygon points="276.3,519.8 278.5,519.8 277.9,527.0 277.0,527.0" fill="#000"/>
<rect x="285.57" y="519.80" width="1.9" height="14.20" fill="#000"/>
<polygon points="294.5,519.8 296.7,519.8 296.1,527.0 295.2,527.0" fill="#000"/>
<polygon points="303.6,519.8 305.8,519.8 305.2,527.0 304.3,527.0" fill="#000"/>
<polygon points="312.7,519.8 314.9,519.8 314.3,527.0 313.4,527.0" fill="#000"/>
<polygon points="321.8,519.8 324.0,519.8 323.4,527.0 322.5,527.0" fill="#000"/>
<rect x="331.10" y="519.80" width="1.9" height="14.20" fill="#000"/>
<polygon points="340.1,519.8 342.3,519.8 341.6,527.0 340.7,527.0" fill="#000"/>
<polygon points="349.2,519.8 351.4,519.8 350.7,527.0 349.8,527.0" fill="#000"/>
<polygon points="358.3,519.8 360.5,519.8 359.8,527.0 358.9,527.0" fill="#000"/>
<polygon points="367.4,519.8 369.6,519.8 368.9,527.0 368.0,527.0" fill="#000"/>
<rect x="376.62" y="519.80" width="1.9" height="14.20" fill="#000"/>
<polygon points="385.6,519.8 387.8,519.8 387.1,527.0 386.2,527.0" fill="#000"/>
<text transform="translate(58.9 569.8) scale(0.93 1)" text-anchor="middle" font-size="29" font-family="Liberation Sans, sans-serif" font-weight="bold" stroke="#000" stroke-width="0.55" stroke-linejoin="round">0</text>
<text transform="translate(104.4 569.8) scale(0.93 1)" text-anchor="middle" font-size="29" font-family="Liberation Sans, sans-serif" font-weight="bold" stroke="#000" stroke-width="0.55" stroke-linejoin="round">2.5</text>
<text transform="translate(150.0 569.8) scale(0.93 1)" text-anchor="middle" font-size="29" font-family="Liberation Sans, sans-serif" font-weight="bold" stroke="#000" stroke-width="0.55" stroke-linejoin="round">5</text>
<text transform="translate(195.5 569.8) scale(0.93 1)" text-anchor="middle" font-size="29" font-family="Liberation Sans, sans-serif" font-weight="bold" stroke="#000" stroke-width="0.55" stroke-linejoin="round">7.5</text>
<text transform="translate(241.0 569.8) scale(0.93 1)" text-anchor="middle" font-size="29" font-family="Liberation Sans, sans-serif" font-weight="bold" stroke="#000" stroke-width="0.55" stroke-linejoin="round">10</text>
<text transform="translate(286.5 569.8) scale(0.93 1)" text-anchor="middle" font-size="29" font-family="Liberation Sans, sans-serif" font-weight="bold" stroke="#000" stroke-width="0.55" stroke-linejoin="round">12.5</text>
<text transform="translate(332.1 569.8) scale(0.93 1)" text-anchor="middle" font-size="29" font-family="Liberation Sans, sans-serif" font-weight="bold" stroke="#000" stroke-width="0.55" stroke-linejoin="round">15</text>
<text transform="translate(377.6 569.8) scale(0.93 1)" text-anchor="middle" font-size="29" font-family="Liberation Sans, sans-serif" font-weight="bold" stroke="#000" stroke-width="0.55" stroke-linejoin="round">17.5</text>
<polygon points="480.6,509.2 807.4,509.2 817.2,514.5 807.4,519.8 480.6,519.8 470.8,514.5" fill="#000" stroke="#000" stroke-width="1" stroke-linejoin="miter"/>
<rect x="481.80" y="510.90" width="6.30" height="7.40" fill="#c8ffff"/>
<rect x="490.40" y="510.90" width="6.30" height="7.40" fill="#b0ffff"/>
<rect x="499.00" y="510.90" width="6.30" height="7.40" fill="#98ffff"/>
<rect x="507.60" y="510.90" width="6.30" height="7.40" fill="#80ffff"/>
<rect x="516.20" y="510.90" width="6.30" height="7.40" fill="#70ffff"/>
<rect x="524.80" y="510.90" width="6.30" height="7.40" fill="#50e8ff"/>
<rect x="533.40" y="510.90" width="6.30" height="7.40" fill="#38c8ff"/>
<rect x="542.00" y="510.90" width="6.30" height="7.40" fill="#28b0ff"/>
<rect x="550.60" y="510.90" width="6.30" height="7.40" fill="#1898ff"/>
<rect x="559.20" y="510.90" width="6.30" height="7.40" fill="#1478ff"/>
<rect x="567.80" y="510.90" width="6.30" height="7.40" fill="#0c58ff"/>
<rect x="576.40" y="510.90" width="6.30" height="7.40" fill="#0838ff"/>
<rect x="585.00" y="510.90" width="6.30" height="7.40" fill="#0010ff"/>
<rect x="593.60" y="510.90" width="6.30" height="7.40" fill="#0000ff"/>
<rect x="602.20" y="510.90" width="6.30" height="7.40" fill="#0000e0"/>
<rect x="610.80" y="510.90" width="6.30" height="7.40" fill="#0000b0"/>
<rect x="619.40" y="510.90" width="6.30" height="7.40" fill="#000098"/>
<rect x="628.00" y="510.90" width="6.30" height="7.40" fill="#000080"/>
<rect x="636.60" y="510.90" width="6.30" height="7.40" fill="#000060"/>
<rect x="645.20" y="510.90" width="6.30" height="7.40" fill="#ff0000"/>
<rect x="653.80" y="510.90" width="6.30" height="7.40" fill="#ff1000"/>
<rect x="662.40" y="510.90" width="6.30" height="7.40" fill="#ff2800"/>
<rect x="671.00" y="510.90" width="6.30" height="7.40" fill="#ff3800"/>
<rect x="679.60" y="510.90" width="6.30" height="7.40" fill="#ff5000"/>
<rect x="688.20" y="510.90" width="6.30" height="7.40" fill="#ff6800"/>
<rect x="696.80" y="510.90" width="6.30" height="7.40" fill="#ff8000"/>
<rect x="705.40" y="510.90" width="6.30" height="7.40" fill="#ff9810"/>
<rect x="714.00" y="510.90" width="6.30" height="7.40" fill="#ffb020"/>
<rect x="722.60" y="510.90" width="6.30" height="7.40" fill="#ffc030"/>
<rect x="731.20" y="510.90" width="6.30" height="7.40" fill="#ffd840"/>
<rect x="739.80" y="510.90" width="6.30" height="7.40" fill="#fff050"/>
<rect x="748.40" y="510.90" width="6.30" height="7.40" fill="#ffff60"/>
<rect x="757.00" y="510.90" width="6.30" height="7.40" fill="#ffff78"/>
<rect x="765.60" y="510.90" width="6.30" height="7.40" fill="#ffff90"/>
<rect x="774.20" y="510.90" width="6.30" height="7.40" fill="#ffffa0"/>
<rect x="782.80" y="510.90" width="6.30" height="7.40" fill="#ffffb8"/>
<rect x="791.40" y="510.90" width="6.30" height="7.40" fill="#ffffc8"/>
<rect x="800.00" y="510.90" width="6.30" height="7.40" fill="#ffffd8"/>
<polygon points="808.4,510.9 814.4,514.5 808.4,518.3" fill="#ffffee"/>
<polygon points="479.8,510.9 473.8,514.5 479.8,518.3" fill="#e0ffff"/>
<polygon points="479.5,519.8 481.7,519.8 481.1,527.0 480.2,527.0" fill="#000"/>
<polygon points="488.1,519.8 490.3,519.8 489.7,527.0 488.8,527.0" fill="#000"/>
<polygon points="496.7,519.8 498.9,519.8 498.2,527.0 497.4,527.0" fill="#000"/>
<rect x="505.45" y="519.80" width="1.9" height="14.20" fill="#000"/>
<polygon points="513.9,519.8 516.1,519.8 515.5,527.0 514.5,527.0" fill="#000"/>
<polygon points="522.5,519.8 524.7,519.8 524.1,527.0 523.1,527.0" fill="#000"/>
<polygon points="531.1,519.8 533.3,519.8 532.7,527.0 531.8,527.0" fill="#000"/>
<polygon points="539.7,519.8 541.9,519.8 541.3,527.0 540.4,527.0" fill="#000"/>
<polygon points="548.3,519.8 550.5,519.8 549.9,527.0 548.9,527.0" fill="#000"/>
<polygon points="556.9,519.8 559.1,519.8 558.5,527.0 557.5,527.0" fill="#000"/>
<polygon points="565.5,519.8 567.7,519.8 567.1,527.0 566.1,527.0" fill="#000"/>
<rect x="574.25" y="519.80" width="1.9" height="14.20" fill="#000"/>
<polygon points="582.7,519.8 584.9,519.8 584.2,527.0 583.3,527.0" fill="#000"/>
<polygon points="591.3,519.8 593.5,519.8 592.9,527.0 591.9,527.0" fill="#000"/>
<polygon points="599.9,519.8 602.1,519.8 601.5,527.0 600.5,527.0" fill="#000"/>
<polygon points="608.5,519.8 610.7,519.8 610.1,527.0 609.1,527.0" fill="#000"/>
<polygon points="617.1,519.8 619.3,519.8 618.7,527.0 617.8,527.0" fill="#000"/>
<polygon points="625.7,519.8 627.9,519.8 627.2,527.0 626.3,527.0" fill="#000"/>
<polygon points="634.3,519.8 636.5,519.8 635.9,527.0 634.9,527.0" fill="#000"/>
<rect x="643.05" y="519.80" width="1.9" height="14.20" fill="#000"/>
<polygon points="651.5,519.8 653.7,519.8 653.1,527.0 652.1,527.0" fill="#000"/>
<polygon points="660.1,519.8 662.3,519.8 661.7,527.0 660.8,527.0" fill="#000"/>
<polygon points="668.7,519.8 670.9,519.8 670.2,527.0 669.3,527.0" fill="#000"/>
<polygon points="677.3,519.8 679.5,519.8 678.9,527.0 677.9,527.0" fill="#000"/>
<polygon points="685.9,519.8 688.1,519.8 687.5,527.0 686.5,527.0" fill="#000"/>
<polygon points="694.5,519.8 696.7,519.8 696.1,527.0 695.1,527.0" fill="#000"/>
<polygon points="703.1,519.8 705.3,519.8 704.7,527.0 703.8,527.0" fill="#000"/>
<rect x="711.85" y="519.80" width="1.9" height="14.20" fill="#000"/>
<polygon points="720.3,519.8 722.5,519.8 721.9,527.0 720.9,527.0" fill="#000"/>
<polygon points="728.9,519.8 731.1,519.8 730.5,527.0 729.5,527.0" fill="#000"/>
<polygon points="737.5,519.8 739.7,519.8 739.1,527.0 738.1,527.0" fill="#000"/>
<polygon points="746.1,519.8 748.3,519.8 747.7,527.0 746.8,527.0" fill="#000"/>
<polygon points="754.7,519.8 756.9,519.8 756.2,527.0 755.3,527.0" fill="#000"/>
<polygon points="763.3,519.8 765.5,519.8 764.9,527.0 764.0,527.0" fill="#000"/>
<polygon points="771.9,519.8 774.1,519.8 773.5,527.0 772.5,527.0" fill="#000"/>
<rect x="780.65" y="519.80" width="1.9" height="14.20" fill="#000"/>
<polygon points="789.1,519.8 791.3,519.8 790.7,527.0 789.8,527.0" fill="#000"/>
<polygon points="797.7,519.8 799.9,519.8 799.2,527.0 798.3,527.0" fill="#000"/>
<polygon points="806.3,519.8 808.5,519.8 807.9,527.0 807.0,527.0" fill="#000"/>
<text transform="translate(506.4 569.8) scale(0.93 1)" text-anchor="middle" font-size="29" font-family="Liberation Sans, sans-serif" font-weight="bold" stroke="#000" stroke-width="0.55" stroke-linejoin="round">−8</text>
<text transform="translate(575.2 569.8) scale(0.93 1)" text-anchor="middle" font-size="29" font-family="Liberation Sans, sans-serif" font-weight="bold" stroke="#000" stroke-width="0.55" stroke-linejoin="round">−4</text>
<text transform="translate(644.0 569.8) scale(0.93 1)" text-anchor="middle" font-size="29" font-family="Liberation Sans, sans-serif" font-weight="bold" stroke="#000" stroke-width="0.55" stroke-linejoin="round">0</text>
<text transform="translate(712.8 569.8) scale(0.93 1)" text-anchor="middle" font-size="29" font-family="Liberation Sans, sans-serif" font-weight="bold" stroke="#000" stroke-width="0.55" stroke-linejoin="round">4</text>
<text transform="translate(781.6 569.8) scale(0.93 1)" text-anchor="middle" font-size="29" font-family="Liberation Sans, sans-serif" font-weight="bold" stroke="#000" stroke-width="0.55" stroke-linejoin="round">8</text>
</svg>
</body></html>
